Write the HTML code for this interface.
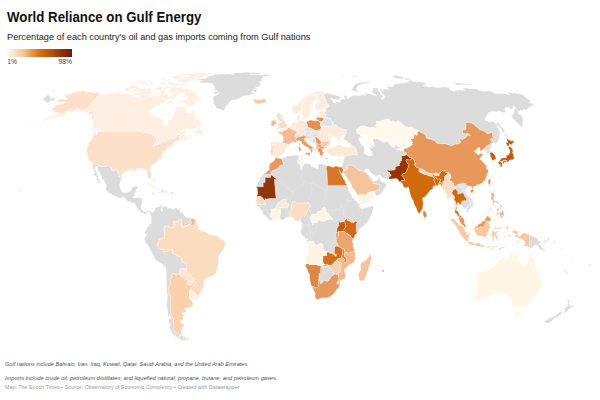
<!DOCTYPE html>
<html><head><meta charset="utf-8"><title>World Reliance on Gulf Energy</title>
<style>
html,body{margin:0;padding:0;background:#fff;}
body{width:600px;height:400px;overflow:hidden;position:relative;font-family:"Liberation Sans",sans-serif;color:#181818;}
#map{position:absolute;left:0;top:0;width:600px;height:400px;}
#map path{stroke:#fff;stroke-width:.3;stroke-linejoin:round;}
.t{position:absolute;white-space:nowrap;line-height:1;transform-origin:0 0;}
#title{left:6.6px;top:9.8px;font-size:14.3px;font-weight:700;color:#111;transform:scaleX(.9285);}
#sub{left:6.6px;top:33.1px;font-size:9px;color:#222;transform:scaleX(1.022);}
#grad{position:absolute;left:6.7px;top:48.8px;width:65.3px;height:8.1px;background:linear-gradient(90deg,#fff8ef 0%,#fde3c8 12%,#f9c697 25%,#e88f42 40%,#d8700f 50%,#b7540c 68%,#8c320a 85%,#6a1b08 100%);}
#l0{left:7.2px;top:59.4px;font-size:6.8px;color:#4a4a4a;}
#l1{left:72px;top:59.4px;font-size:6.8px;color:#4a4a4a;transform:translateX(-100%);}
.fn{font-size:5.55px;color:#4f4f4f;font-style:italic;}
#f1{left:5px;top:361.7px;transform:scaleX(1.0035);}
#f2{left:5px;top:375.5px;transform:scaleX(1.0275);}
#f3{left:5px;top:385.1px;font-size:5.5px;color:#9a9a9a;transform:scaleX(.971);}
</style></head><body>
<svg id="map" viewBox="0 0 600 400">
<path d="M516.1,91.6L515.8,91.3L516.9,90.3L518.4,91.4ZM325.2,111.3L326.6,110.4L325.0,109.5L328.7,106.2L329.0,105.2L326.8,104.0L327.1,102.8L325.6,101.5L326.2,100.0L324.3,98.0L325.2,96.7L323.0,95.6L322.9,94.4L323.9,94.3L326.0,93.6L327.2,93.0L329.6,94.0L333.3,94.4L338.8,96.3L340.1,97.1L340.5,98.3L339.3,99.2L337.2,99.7L330.8,98.4L329.9,98.6L332.4,99.9L333.2,102.5L335.0,103.0L336.2,103.5L336.2,102.6L335.2,101.9L335.9,101.2L339.5,102.3L340.5,101.9L339.3,100.6L342.0,98.8L343.2,98.9L344.7,99.6L345.1,98.4L343.7,97.3L344.0,96.3L342.7,95.2L346.6,95.8L347.7,96.7L346.0,96.9L346.3,97.9L347.6,98.5L349.5,98.1L349.5,97.0L356.1,94.7L357.1,94.8L356.2,95.9L357.9,96.0L358.7,95.5L361.1,95.4L362.8,94.7L364.7,95.7L365.8,94.6L364.0,93.6L364.4,93.1L368.5,93.6L370.6,94.1L376.2,96.1L376.7,95.1L374.9,94.3L374.7,93.9L373.1,93.7L373.1,92.9L371.8,91.6L371.5,91.1L373.1,89.6L373.2,88.1L373.9,87.8L377.5,88.2L378.3,89.1L377.8,90.4L378.9,91.0L379.9,92.1L380.8,94.5L382.8,95.5L382.8,96.7L381.4,99.1L383.1,99.4L383.3,98.8L384.6,98.3L384.5,97.5L385.2,96.6L384.0,95.6L384.0,94.5L382.5,94.4L381.7,93.4L381.8,91.7L379.4,90.4L381.1,89.3L380.1,88.1L380.7,88.1L381.9,89.0L382.3,90.6L383.9,90.9L382.6,89.7L384.4,89.0L387.0,88.9L389.9,89.9L387.9,88.5L386.7,86.8L388.7,86.4L391.8,86.5L394.3,86.3L392.7,85.5L393.4,84.4L394.8,84.4L396.7,83.6L399.8,83.4L399.8,82.9L402.9,82.8L404.2,83.1L406.3,82.3L408.6,82.4L408.3,81.7L408.9,81.0L411.1,80.4L413.5,80.9L413.6,80.9L412.4,81.3L415.4,81.5L416.4,82.3L417.2,81.9L420.8,81.9L424.3,82.7L425.8,83.3L426.3,84.1L425.4,84.6L422.9,85.4L422.4,85.9L424.1,86.1L426.3,86.5L427.2,86.2L428.8,87.3L429.0,86.9L430.7,86.6L435.0,86.9L436.0,87.6L441.6,87.9L440.4,86.6L443.4,86.9L445.4,86.9L448.3,87.8L449.9,88.8L449.8,89.5L452.7,90.8L455.4,91.5L454.9,89.7L457.7,90.5L459.5,90.0L462.5,90.5L462.9,90.1L465.3,90.3L462.8,88.8L463.7,88.1L476.4,89.1L478.6,90.1L483.4,91.4L488.2,91.1L491.1,91.3L493.0,92.0L494.3,93.3L496.4,93.8L497.8,93.4L500.0,93.4L502.9,93.7L505.2,93.5L509.3,95.0L510.3,94.5L507.9,93.4L507.5,92.6L512.3,93.1L514.9,93.0L519.7,93.8L522.5,94.6L530.9,101.5L530.0,102.3L528.1,102.1L530.4,103.1L532.9,104.5L534.1,105.0L535.1,105.8L535.2,106.2L532.2,105.8L529.8,107.2L528.7,107.4L527.0,109.8L527.3,110.6L524.0,109.4L521.7,110.8L520.4,110.1L519.8,110.9L517.7,110.7L518.4,111.9L518.3,113.7L519.1,114.4L521.1,114.8L523.3,117.5L522.0,117.6L522.8,119.2L524.1,120.0L522.3,121.0L523.6,123.1L521.7,123.6L522.8,125.6L522.0,127.3L520.5,126.0L517.6,123.2L513.4,119.0L511.9,116.4L512.2,115.3L511.5,114.4L513.4,114.0L513.8,111.7L514.5,109.8L515.6,108.3L514.2,105.8L512.6,105.9L513.3,107.4L511.7,109.4L508.4,107.2L505.3,107.8L504.6,110.9L506.8,112.0L504.1,112.5L502.0,112.7L501.0,111.3L498.5,111.0L497.5,112.0L492.9,111.6L488.6,112.2L484.5,120.2L487.0,120.5L488.5,121.7L490.3,122.1L490.6,121.1L492.3,121.3L495.9,123.4L497.1,125.0L497.3,126.9L498.7,129.2L500.0,132.3L499.4,135.2L499.7,136.5L497.6,142.3L496.1,143.5L495.1,143.5L493.6,142.5L492.5,143.8L491.3,140.9L490.0,139.2L490.9,138.5L493.0,138.9L493.0,136.9L492.3,134.8L492.5,134.1L492.2,132.2L490.0,132.8L489.1,133.6L486.8,133.6L485.1,131.8L482.5,130.4L479.5,129.7L477.8,127.9L476.6,126.7L475.5,125.8L473.3,123.9L471.6,123.2L469.0,122.6L467.0,122.7L465.4,123.0L464.7,124.0L464.8,124.0L465.8,124.5L466.5,125.5L466.0,126.1L465.8,128.2L466.3,129.0L464.8,130.2L462.6,129.5L462.6,132.9L463.4,133.8L464.2,133.5L465.9,133.8L466.7,133.1L468.2,133.7L470.3,135.1L470.4,135.7L469.1,135.5L467.0,135.8L466.2,136.3L465.7,137.6L463.7,138.4L462.6,139.4L459.9,138.9L459.6,140.2L460.5,141.0L461.0,141.6L460.2,142.2L459.5,143.3L458.0,144.0L455.6,144.1L453.3,144.8L451.9,145.8L451.0,145.2L449.1,145.2L446.3,144.0L444.6,143.7L442.6,144.0L439.2,143.5L437.4,143.6L436.1,142.4L434.7,140.6L433.6,140.4L431.3,139.1L427.1,138.5L426.2,137.7L425.9,135.4L424.3,133.8L421.8,133.0L420.1,132.0L419.1,130.6L418.6,130.8L417.3,129.6L415.4,129.9L414.5,129.0L413.3,128.7L412.1,127.5L411.1,127.2L409.1,127.7L406.6,126.6L406.2,127.6L401.0,122.7L398.6,121.3L398.8,120.7L398.8,120.6L395.8,122.4L394.4,122.5L394.1,121.5L392.0,120.9L390.6,121.3L389.4,119.4L386.6,118.9L385.6,119.7L382.1,120.4L381.6,120.9L376.3,121.6L375.8,122.3L377.2,123.5L376.0,124.0L376.4,124.6L375.2,125.5L378.1,126.9L378.0,127.7L375.8,127.6L375.5,128.2L373.3,127.2L371.0,127.3L369.6,128.1L363.9,125.9L361.6,126.0L358.9,128.1L359.1,129.5L357.3,128.4L356.5,130.5L357.0,131.0L356.5,132.5L358.1,133.8L359.2,133.8L360.4,135.0L360.5,136.1L361.4,136.4L360.9,137.5L359.5,137.8L358.3,139.9L360.1,141.8L360.2,143.1L363.4,146.5L365.0,148.7L364.5,148.7L364.5,150.3L364.3,151.0L363.8,151.4L364.0,152.4L364.8,153.9L366.4,154.4L367.6,155.4L370.0,155.7L372.4,155.2L372.5,154.7L372.0,153.3L371.8,151.2L370.4,150.5L370.6,149.1L369.5,149.0L369.6,147.3L371.2,147.8L372.4,147.2L371.0,146.0L370.2,144.6L370.8,144.5L372.0,145.0L373.5,146.6L374.3,146.5L372.6,139.1L376.3,138.0L380.9,140.3L382.8,142.1L384.6,141.8L387.3,141.7L389.5,143.1L389.9,145.1L390.7,145.1L391.4,146.8L393.4,146.8L394.1,147.8L394.7,147.8L395.1,146.3L397.9,144.0L398.3,144.4L397.1,146.1L398.5,146.8L399.5,146.3L401.6,147.3L400.0,148.7L398.7,148.6L398.3,149.2L396.4,148.8L396.6,150.0L398.3,149.9L400.4,150.6L403.4,150.3L404.2,152.1L404.7,151.9L405.8,152.4L405.9,153.1L406.5,154.3L406.8,154.8L406.0,155.0L405.3,155.4L403.5,155.6L401.8,156.0L401.1,156.9L401.6,157.8L402.0,158.8L401.4,159.7L401.6,160.4L401.3,161.1L399.8,161.1L400.6,162.4L399.7,162.9L399.3,164.2L399.6,165.4L399.1,165.9L398.4,165.7L397.2,166.0L397.1,166.6L395.9,166.6L395.1,167.7L395.4,169.4L393.4,170.3L392.2,170.1L391.9,170.5L390.9,170.3L389.3,170.6L386.3,169.5L387.3,170.7L388.2,171.9L389.9,172.8L390.2,174.5L391.0,174.9L391.3,175.7L389.0,176.8L388.7,179.2L385.5,178.6L383.6,178.1L381.7,177.8L380.6,175.3L379.8,175.0L378.5,175.4L377.0,176.3L374.8,175.7L373.0,174.1L371.3,173.5L370.0,171.6L368.4,168.9L367.5,169.2L366.4,168.6L365.9,169.4L364.9,169.3L365.3,170.2L365.2,170.6L365.9,172.1L364.8,172.2L364.3,171.2L362.8,171.0L359.7,170.8L354.5,166.8L351.9,165.4L349.9,164.8L349.6,165.1L346.3,166.2L348.2,168.2L347.7,168.5L347.5,169.2L346.2,169.5L345.9,170.2L345.3,170.8L343.4,170.5L341.9,166.7L342.3,166.1L342.2,166.0L342.5,165.0L342.7,163.5L343.0,163.0L343.4,161.3L344.1,159.9L343.8,158.3L344.0,157.6L344.9,156.6L344.8,155.5L345.4,155.9L347.1,155.3L348.0,155.7L349.3,155.7L351.1,155.0L352.0,155.0L353.8,154.7L354.4,154.4L356.3,154.6L357.0,155.1L357.7,154.8L356.6,153.1L356.9,152.5L356.0,150.2L357.0,149.6L356.3,149.0L355.0,148.5L355.0,147.6L354.6,146.9L352.9,145.9L351.3,146.0L351.4,145.2L350.7,143.8L349.7,143.1L348.8,142.8L348.2,142.2L345.9,140.5L344.0,139.8L342.5,138.6L343.5,138.3L344.6,136.7L343.6,135.9L345.7,135.1L345.6,134.7L344.3,135.0L344.2,134.1L344.9,133.6L346.4,133.4L346.5,132.8L346.0,131.7L346.4,130.7L346.3,130.1L343.9,129.4L343.0,129.4L341.9,128.5L340.8,128.8L338.8,128.2L338.8,127.8L338.1,126.9L336.3,126.8L337.0,125.9L335.8,124.8L334.3,124.9L333.8,124.8L333.5,125.3L332.9,125.2L332.4,124.0L331.8,123.2L333.4,123.3L333.9,122.8L333.4,122.3L332.5,122.0L332.4,121.6L331.7,121.3L330.6,120.1L330.8,119.6L330.5,118.7L329.0,118.2L328.3,118.4L328.0,118.0L326.4,117.5L325.8,116.4L325.5,115.5L324.8,115.1L325.3,114.5L324.6,112.8L325.4,111.7ZM590.1,266.1L589.0,266.3L588.1,266.1L588.2,265.2L589.0,264.5L589.7,264.7L590.2,264.4L590.6,265.0ZM567.5,298.0L567.9,297.8L568.5,300.1L569.5,300.6L569.0,302.4L569.0,304.5L569.8,303.2L570.2,303.7L569.6,305.2L570.5,305.9L571.5,306.0L572.9,305.3L573.6,305.5L572.1,307.3L570.9,308.5L569.7,308.4L568.9,309.0L568.6,309.9L565.2,312.7L563.4,313.5L563.5,313.0L563.0,312.7L565.0,311.0L565.1,309.9L563.9,309.1L564.3,308.4L565.9,307.7L567.1,306.2L567.8,304.9L567.9,303.5L568.1,303.2L567.8,302.3L567.4,300.6ZM554.1,318.6L552.8,319.9L550.5,321.9L547.5,323.3L546.1,323.3L545.5,322.6L543.9,322.5L544.2,321.8L546.0,320.3L549.3,318.3L550.5,318.0L552.2,317.2L554.2,316.2L555.8,315.1L557.5,313.7L558.4,313.1L559.3,312.0L561.0,311.1L560.7,312.8L562.3,312.0L562.3,312.8L561.7,313.7L558.6,316.1L557.2,316.9L557.2,317.8L555.9,317.8ZM571.0,260.5L571.3,259.0L572.0,259.6L572.0,260.8L571.1,261.1ZM564.0,270.0L565.0,270.0L565.8,270.7L567.7,273.2L568.4,274.1L567.6,274.6L566.8,274.1L565.8,273.2L565.1,272.1ZM561.1,248.1L562.2,248.5L563.8,249.8L561.2,249.2L560.9,248.9ZM552.7,239.2L554.5,242.0L555.2,242.7L555.0,243.3L554.5,243.5L553.8,242.7L553.1,241.4ZM541.0,240.5L541.0,240.3L543.8,240.8L544.7,240.7L545.2,239.1L545.4,240.7L546.4,240.6L546.9,239.9L547.9,239.1L547.8,238.0L548.8,237.9L549.2,238.2L549.1,239.4L548.4,240.6L547.5,240.8L547.2,241.3L545.3,242.3L544.4,242.3L543.0,241.7ZM528.9,247.9L529.7,234.8L532.6,236.2L535.8,237.3L536.9,238.4L537.8,239.4L538.0,240.6L540.8,241.8L541.2,242.9L539.6,243.1L539.8,244.4L541.2,245.7L542.1,247.9L543.2,247.8L543.0,248.7L544.3,249.0L543.7,249.4L546.3,250.7L544.0,251.0L543.7,250.5L540.5,249.9L539.3,248.6L538.5,247.5L537.7,245.8L535.5,244.9L534.0,245.5L532.9,246.2L533.0,247.6L531.6,248.3L530.6,248.0ZM465.9,84.2L465.4,83.7L468.8,84.0L472.4,84.5L471.7,85.1L469.6,84.9ZM455.0,84.2L454.4,83.1L455.7,82.8L459.0,82.9L464.5,83.7L464.9,84.9L460.3,84.8L458.6,85.2ZM497.8,125.6L496.1,122.9L497.1,121.9L499.3,124.0L500.6,125.9L502.5,127.9L506.3,131.3L503.6,130.6L504.5,133.5L507.3,135.5L508.1,136.9L506.2,135.7L506.1,137.2L504.8,135.5L503.8,133.6L502.3,131.5L501.7,130.0L500.0,127.5ZM487.4,153.4L486.3,152.9L486.4,152.0L486.7,151.7L486.4,151.4L486.3,150.3L486.1,150.0L485.1,149.8L484.1,149.2L484.8,148.0L486.1,146.9L486.5,145.5L487.6,146.1L489.0,146.2L488.3,145.1L490.3,144.3L490.4,143.2L491.8,144.2L491.3,145.2L491.2,145.9L491.9,147.3L491.3,147.8L490.8,148.7L489.9,149.0L489.4,149.6L489.8,150.4L489.7,150.7L490.5,151.0L492.3,152.2L491.1,152.4L490.0,152.5L489.7,153.4L489.0,153.4L488.9,153.5L488.1,153.2L487.9,154.3ZM501.2,247.4L502.9,246.5L505.7,246.4L505.8,246.5L502.8,247.9L501.3,248.4L501.3,247.8ZM456.8,186.6L457.1,187.0L458.1,187.1L457.4,184.8L458.2,184.5L459.5,186.0L460.6,187.9L462.7,187.9L463.6,189.6L462.6,190.1L462.3,190.9L464.5,192.1L467.6,196.3L469.1,197.7L469.7,199.1L469.7,201.1L470.2,202.4L470.3,204.8L467.6,206.4L468.4,207.6L466.6,207.7L465.2,208.5L463.8,208.3L463.0,207.2L461.9,205.2L461.3,202.7L462.2,201.1L464.3,200.7L466.0,201.0L466.4,200.1L466.3,198.3L464.7,196.6L464.3,194.6L462.7,192.9L461.4,192.8L461.1,193.5L460.2,193.5L459.6,193.2L458.0,194.4L457.7,192.6L457.8,190.5L456.6,190.4L456.3,189.2L455.5,188.6L455.7,187.8ZM404.9,80.1L405.2,78.1L406.0,78.0L407.0,78.1L410.8,78.9L411.1,79.5ZM404.1,78.7L401.7,78.8L398.0,78.4L395.5,77.9L393.6,76.8L391.7,76.6L393.7,75.6L395.9,75.3L398.9,76.0L403.1,77.4ZM433.7,174.9L434.7,173.2L435.4,172.7L436.7,173.2L437.6,173.2L438.4,173.8L439.2,174.4L439.4,175.6L438.0,175.6L436.6,175.5L435.6,175.8ZM422.2,173.4L420.4,172.4L418.7,171.6L419.0,169.8L420.4,168.4L421.8,169.0L423.8,170.4L424.8,170.6L425.5,171.6L426.9,172.0L428.4,172.9L430.4,173.4L432.4,173.5L432.4,174.4L432.9,175.7L432.9,176.4L431.5,176.5L428.1,175.8L426.9,174.8L424.6,174.5ZM351.7,90.3L351.2,89.4L352.3,89.1L351.9,88.2L353.9,86.8L352.6,86.6L355.0,85.2L354.3,84.5L356.7,83.6L360.3,82.6L364.2,82.3L365.9,81.8L368.2,81.6L369.4,82.2L368.9,82.7L361.6,84.2L358.4,85.7L356.0,88.9L356.8,90.2L360.2,91.7L360.2,91.8L354.8,91.5L354.2,90.8ZM355.0,77.0L352.5,76.8L352.6,76.1L355.9,75.8L357.6,76.5ZM372.4,181.4L373.9,181.0L376.3,181.1L379.5,177.0L380.2,179.5L381.1,180.9L382.1,181.6L383.4,181.8L384.4,182.2L385.8,184.0L386.5,184.3L386.5,184.8L385.8,186.5L385.2,187.2L384.7,188.5L383.9,188.4L383.6,188.9L383.4,189.9L383.8,191.6L382.8,191.5L381.8,192.3L381.7,193.3L381.4,193.7L380.3,193.7L379.7,194.2L379.8,195.0L379.0,195.6L378.0,195.4L376.9,196.0L376.2,196.2L373.9,191.5L378.9,189.4L379.6,185.4L378.7,183.9L378.4,184.3L373.2,183.3ZM370.8,179.8L370.5,178.4L370.9,177.3L371.3,177.1L371.9,177.7L372.1,178.9L371.8,180.0L371.4,180.2ZM340.3,76.0L341.3,76.0L341.9,76.5L341.7,76.1L343.2,75.8L344.8,76.0L344.9,76.3L342.1,76.6L342.3,76.8L341.1,77.0L339.6,76.7ZM256.4,186.7L256.5,185.6L257.1,185.1L257.7,184.0L257.6,183.3L258.3,181.9L259.2,180.6L259.8,180.3L260.3,179.1L260.4,178.0L261.0,176.8L262.2,176.1L263.3,174.0L270.7,174.0L270.7,174.1L270.8,174.0L270.8,171.6L273.5,170.1L275.2,169.8L276.6,169.3L277.2,168.2L279.2,167.4L279.3,165.9L280.2,165.8L280.9,165.0L283.1,164.7L283.4,163.9L283.0,163.4L282.4,161.3L282.4,160.1L281.7,158.8L283.3,157.7L285.0,157.3L286.1,156.5L287.6,155.9L290.4,155.5L293.1,155.4L293.9,155.7L295.4,154.9L297.1,154.9L297.8,155.3L298.9,155.2L298.6,156.2L298.9,158.2L298.5,159.8L297.5,160.9L297.7,162.5L299.1,163.7L299.1,164.2L300.2,165.0L301.0,168.6L301.8,168.1L301.9,167.3L301.7,166.5L302.8,165.7L303.3,165.1L304.1,164.5L304.2,162.9L306.1,163.6L306.8,163.4L308.2,163.8L310.4,164.6L311.2,166.4L312.7,166.8L315.1,167.7L316.9,168.7L317.7,168.2L318.4,167.2L318.0,165.7L318.4,164.7L319.6,163.8L320.7,163.5L322.9,163.9L323.6,164.8L324.2,164.8L324.7,165.1L326.4,165.4L326.8,166.0L326.2,167.0L326.6,167.9L326.2,169.1L326.8,170.8L327.6,185.4L347.7,185.4L348.4,187.4L348.1,187.7L348.4,189.8L349.2,192.2L350.8,193.4L352.0,195.8L352.5,197.6L353.5,198.6L356.0,200.5L358.5,203.5L359.4,204.1L359.8,204.7L359.8,205.6L358.9,206.0L360.2,207.0L360.6,207.8L361.4,208.6L362.2,208.6L363.8,208.1L365.7,207.9L367.2,207.3L368.0,207.1L368.6,206.8L370.2,206.7L370.9,206.4L371.8,206.2L372.6,205.5L373.3,205.5L373.3,206.0L373.2,207.2L373.3,208.2L373.0,209.0L372.6,211.1L371.8,213.4L370.8,216.0L369.4,218.9L368.0,221.1L366.0,223.9L364.2,225.5L361.7,227.5L360.1,229.0L358.1,231.4L357.5,233.1L356.4,231.3L356.3,224.0L357.8,221.7L356.6,221.7L355.9,221.0L354.3,221.9L353.8,222.7L352.7,222.5L352.3,222.3L351.3,222.3L349.1,220.6L347.9,220.6L347.3,220.0L347.3,218.9L346.4,218.5L344.1,221.0L343.1,222.0L341.9,222.0L340.5,222.4L339.4,222.0L338.7,222.5L338.6,224.9L339.2,225.2L338.7,225.9L338.0,226.4L337.4,227.5L337.0,228.4L336.9,230.0L336.5,230.8L336.5,232.3L336.0,232.8L335.9,234.0L335.7,234.2L335.5,235.3L336.0,236.2L336.0,238.6L336.3,240.5L336.1,241.5L336.5,242.7L337.5,243.8L338.2,246.0L335.4,246.4L334.9,246.7L334.4,248.0L334.7,248.9L334.1,253.3L335.7,254.4L336.2,254.3L336.3,256.2L335.0,256.2L333.8,254.2L332.4,253.9L332.1,252.9L331.0,253.5L329.6,253.2L329.1,252.3L328.0,252.1L327.2,252.2L327.1,251.5L325.7,251.4L324.6,251.7L323.5,251.6L323.6,249.4L323.1,248.7L322.9,247.5L323.2,246.3L322.9,245.5L322.8,244.2L320.8,244.2L320.9,243.5L320.0,243.5L319.9,243.8L318.8,243.9L318.1,245.6L317.2,245.3L316.6,245.6L315.5,245.7L314.4,244.1L314.0,242.9L313.5,241.4L308.4,241.3L307.8,241.6L307.3,241.5L306.7,241.8L306.8,241.0L306.9,240.1L307.1,239.6L307.8,239.2L307.1,238.5L306.6,238.8L305.9,239.7L304.5,237.6L302.7,235.6L301.6,233.9L300.5,231.8L300.6,231.2L300.9,230.5L301.7,227.6L302.3,227.5L302.0,225.0L302.2,223.4L301.5,222.1L300.8,221.8L300.4,220.9L300.0,220.6L300.0,220.1L300.5,218.6L301.2,216.7L301.7,216.7L302.8,215.5L303.4,215.5L304.4,216.3L305.6,215.6L305.8,214.8L306.1,214.0L306.4,213.0L307.3,212.1L307.7,210.7L308.0,210.3L308.3,209.2L308.7,207.9L310.1,206.4L310.2,205.7L310.4,205.3L309.7,204.5L309.4,204.5L308.2,202.3L307.7,202.3L306.4,203.4L305.1,202.8L304.1,202.7L303.6,203.0L302.6,202.9L301.6,203.8L300.8,203.8L298.7,202.8L297.9,203.3L297.0,203.2L296.4,202.5L294.6,201.7L292.7,202.0L292.3,202.4L292.0,203.6L291.6,204.4L291.4,206.9L291.8,208.1L291.4,208.9L291.6,209.4L290.8,210.6L290.2,211.2L289.9,212.5L290.0,213.8L289.9,217.0L288.5,217.3L287.1,217.7L284.4,218.9L283.4,219.6L281.9,220.2L280.3,219.6L280.4,218.8L279.7,217.1L280.1,214.8L280.9,213.1L280.2,208.7L280.2,207.6L283.2,207.5L283.9,207.7L284.5,207.4L285.3,207.5L286.8,207.6L287.4,207.3L287.8,206.5L288.6,206.3L289.0,205.7L289.0,204.2L287.0,203.8L287.0,202.8L286.0,201.5L285.8,200.6L285.9,199.6L284.8,199.6L284.4,199.2L283.4,199.5L281.8,200.3L281.5,201.0L280.1,201.9L279.9,202.4L279.2,202.8L278.3,202.5L277.9,203.0L277.6,204.4L276.2,206.1L276.3,206.8L275.8,207.6L275.9,208.8L274.8,209.2L274.5,208.4L274.0,208.7L273.7,208.6L273.4,209.2L272.1,209.2L271.6,208.9L271.0,209.3L270.9,210.0L271.3,210.8L271.7,212.4L271.1,212.6L270.9,212.9L271.0,213.3L270.9,214.1L270.6,214.1L270.5,214.8L270.7,215.7L270.3,216.6L270.9,217.2L271.4,217.3L272.1,218.2L272.2,218.9L272.0,219.2L271.8,221.1L269.7,219.9L268.1,218.4L266.6,217.3L265.5,216.0L265.0,215.8L263.7,215.0L262.9,214.0L262.6,213.2L262.4,211.7L263.3,210.9L261.6,210.6L261.0,209.8L260.1,209.1L259.9,208.2L259.7,207.8L259.2,207.4L258.3,206.6L257.5,206.5L257.2,205.9L257.2,205.6L256.3,204.9L257.5,204.4L258.0,204.5L258.5,204.3L262.5,204.4L263.7,204.9L264.1,204.8L264.3,204.6L265.2,204.8L265.5,204.7L265.5,204.0L265.4,203.2L264.8,202.6L264.5,201.5L264.4,200.3L265.0,199.9L265.3,198.7L265.8,198.7L267.0,199.3L267.9,198.9L268.6,199.0L268.9,198.5L275.8,198.5L276.2,197.1L275.9,196.8L274.4,179.4L277.0,179.4L270.7,174.4L270.6,177.5L265.1,177.4L265.0,182.6L263.5,182.8L263.0,183.8L263.3,186.7ZM317.9,212.3L317.0,213.0L316.3,213.7L314.2,214.5L313.7,214.1L313.4,214.0L313.1,214.5L311.7,214.7L310.8,216.7L310.4,217.1L310.3,218.7L310.4,219.5L310.3,220.1L311.1,221.2L311.3,221.9L311.9,222.9L312.7,223.6L312.8,224.5L313.0,225.1L313.9,223.2L314.9,222.2L316.1,222.5L317.2,222.6L317.4,221.2L318.1,220.2L319.0,219.6L320.4,220.2L321.5,221.0L322.8,221.2L324.1,221.6L324.7,220.2L325.6,220.4L327.5,219.4L328.2,219.8L328.8,219.7L329.1,219.3L329.7,219.1L331.0,219.3L332.1,219.3L332.7,219.1L332.4,218.4L331.1,217.6L330.6,216.4L329.9,215.6L328.7,214.5L328.7,213.9L327.7,213.1L326.4,212.2L325.8,211.6L325.7,211.0L326.0,210.2L325.9,209.3L324.9,208.1L324.7,207.2L323.6,207.5L322.7,208.4L321.5,210.5L319.9,211.5L318.2,211.4L317.7,211.5ZM338.7,281.6L338.9,282.5L338.9,283.4L338.6,284.2L337.6,284.5L336.7,283.4L336.7,282.7L337.2,282.0L337.4,281.4L337.9,281.2ZM328.1,265.1L328.4,265.3L329.0,266.9L329.3,267.2L329.8,268.4L331.6,270.6L332.3,270.8L332.3,271.5L332.8,272.8L334.1,273.1L335.0,274.0L332.6,275.5L331.0,277.0L330.4,278.3L329.9,279.1L328.9,279.2L328.4,280.8L327.3,281.3L325.9,281.2L325.2,280.6L324.4,280.4L323.6,280.9L323.1,281.8L322.3,282.4L321.4,283.3L320.3,283.5L319.9,282.9L320.1,281.6L319.2,279.7L318.8,279.4L319.0,273.6L320.7,273.4L321.0,266.3L322.2,266.2L324.9,265.5L325.5,266.4L326.6,265.6L327.1,265.6ZM314.6,120.0L316.4,119.4L318.1,119.7L318.7,120.0L318.7,120.5L318.7,121.0L316.1,121.0L314.3,120.8ZM204.4,80.9L199.5,80.5L197.2,79.9L197.8,79.3L207.6,77.9L208.4,77.4L205.6,76.9L207.0,76.3L211.8,75.4L213.6,75.2L213.5,74.6L216.5,74.3L220.2,74.1L223.7,74.1L224.7,74.5L228.2,73.8L230.5,74.2L232.1,74.3L234.2,74.8L231.9,74.1L232.4,73.5L236.7,72.8L240.6,72.8L242.3,72.4L246.3,72.3L255.1,72.4L261.5,73.4L261.5,73.5L259.5,73.9L249.0,74.1L249.4,74.3L253.5,74.2L256.8,74.6L259.2,74.2L260.0,74.7L258.5,75.5L261.6,75.0L267.2,74.4L270.6,74.7L271.2,75.3L266.3,76.2L265.6,76.6L261.8,76.8L264.5,76.9L262.9,77.9L261.8,78.8L261.5,80.5L262.8,81.5L260.9,81.6L258.8,82.0L260.9,82.9L261.0,84.2L259.6,84.3L261.0,85.7L258.2,85.8L259.6,86.5L259.0,87.1L257.2,87.3L255.4,87.3L256.8,88.4L256.7,89.2L254.3,88.5L253.6,88.9L255.3,89.3L256.8,90.3L257.0,91.7L254.7,92.0L252.4,90.4L252.6,91.5L250.9,92.4L255.9,92.6L255.9,92.7L252.4,94.1L248.5,95.4L244.5,96.0L243.0,96.0L241.5,96.7L239.3,98.5L236.1,99.7L235.1,99.8L231.1,100.6L229.7,101.7L229.4,103.0L228.3,104.1L225.7,105.6L225.9,107.0L223.7,110.2L221.7,110.3L220.0,108.9L217.2,108.8L216.1,107.8L215.7,106.1L214.0,103.9L213.7,102.7L214.0,101.1L212.7,99.5L213.7,98.2L213.0,97.6L215.0,95.6L217.3,95.0L218.0,94.2L218.8,92.9L216.3,93.8L215.0,94.0L213.6,93.5L214.0,92.3L214.8,91.4L216.1,91.4L218.5,91.8L215.8,90.2L214.4,90.4L213.5,90.0L215.6,88.5L215.0,87.9L213.8,85.1L212.5,84.4L212.8,83.8L210.0,82.9L207.5,82.7L201.1,82.9L200.0,82.4L198.4,81.5L201.9,81.0ZM96.2,163.8L96.2,164.2L101.7,166.6L106.3,166.6L106.6,165.7L109.4,165.7L109.8,166.4L111.2,168.0L111.5,169.0L111.6,170.1L112.3,170.7L113.6,171.3L115.0,169.7L116.4,169.7L117.3,170.5L117.8,171.9L118.1,173.1L118.8,174.2L118.9,175.6L119.2,176.6L120.3,177.2L121.4,177.7L122.1,177.6L121.1,179.3L120.5,180.8L119.9,183.5L119.6,184.5L119.7,185.6L120.0,186.6L120.1,188.1L121.0,189.6L121.2,190.8L121.7,191.8L123.4,192.3L124.0,193.2L125.6,192.6L126.9,192.4L129.4,191.7L130.6,190.9L131.2,189.7L131.6,188.0L131.9,187.4L133.2,186.9L135.0,186.4L136.5,186.5L137.6,186.3L137.9,186.7L137.7,187.7L136.6,188.9L136.1,190.1L136.3,190.5L135.3,192.9L135.0,192.4L134.6,192.4L134.5,192.7L134.9,192.7L134.8,193.3L134.4,194.2L134.5,194.5L134.2,195.2L134.3,195.4L134.0,196.4L133.6,196.9L133.3,197.0L132.9,197.7L133.4,198.1L133.6,197.8L134.2,198.1L134.6,197.8L135.1,197.7L135.3,197.9L135.5,197.8L136.3,198.0L137.1,197.9L137.7,197.7L137.9,197.5L138.8,197.7L139.3,197.7L139.7,197.5L140.7,197.8L141.6,198.6L142.2,198.9L142.5,199.4L142.3,200.1L142.4,200.9L141.9,201.6L141.7,202.4L141.5,203.2L141.6,204.7L141.3,204.9L141.0,205.7L141.1,206.3L140.7,206.8L140.8,207.3L141.0,207.6L141.4,208.7L143.3,211.1L143.2,211.6L143.9,211.6L144.1,211.5L144.5,212.0L145.4,211.8L146.2,211.3L147.2,210.9L147.9,210.3L148.8,210.4L148.7,210.6L149.7,210.7L150.4,211.0L151.6,212.2L152.5,212.3L153.8,210.9L154.6,210.7L154.6,210.0L155.1,208.3L156.1,207.4L157.2,207.3L157.4,206.9L158.7,207.1L160.8,205.6L161.7,204.6L162.3,204.8L162.7,205.3L162.4,206.0L162.3,206.4L161.2,206.7L161.8,207.6L161.7,208.6L160.8,209.8L161.4,211.4L162.2,211.3L162.6,209.8L162.1,209.1L162.1,207.6L164.3,206.8L164.2,205.8L164.8,205.2L165.3,206.6L166.5,206.6L167.6,207.7L167.6,208.4L169.2,208.4L171.0,208.2L171.9,209.1L173.3,209.4L174.3,208.7L174.3,208.2L176.7,208.1L177.6,209.6L178.9,209.8L180.2,210.8L180.4,212.4L181.3,212.3L183.1,213.5L184.1,214.9L184.1,215.9L184.8,215.9L186.3,217.6L188.4,218.0L188.6,217.7L190.0,217.5L191.8,218.0L190.9,219.8L191.0,221.2L191.6,222.3L191.3,223.2L191.1,224.1L190.7,224.9L189.7,224.5L188.9,224.7L188.2,224.5L188.0,225.2L188.4,225.9L187.2,225.7L186.8,225.8L185.8,225.6L185.3,226.2L184.5,226.5L183.9,226.6L183.7,227.0L182.9,226.9L181.9,226.0L181.8,225.1L181.3,224.1L181.6,222.4L182.1,221.6L181.7,220.7L181.2,220.4L181.4,219.5L181.0,219.0L180.1,219.1L180.3,219.7L179.6,220.5L177.7,221.2L176.4,221.5L175.9,222.0L174.6,221.5L173.3,221.2L172.9,221.4L173.7,222.0L173.6,223.3L173.8,224.6L176.0,224.9L174.1,225.7L173.9,226.6L171.9,227.4L171.6,228.0L170.3,228.1L169.3,227.1L168.9,227.1L168.7,226.1L168.2,225.5L167.6,226.2L164.2,226.1L164.2,227.4L165.9,227.8L163.8,228.5L163.8,230.0L164.6,230.7L164.9,231.9L164.8,232.7L164.1,238.2L162.6,238.1L162.4,238.4L160.9,238.8L159.0,240.1L158.9,241.1L158.5,241.8L158.7,242.9L157.7,243.5L157.7,244.3L157.3,244.7L158.1,246.5L159.1,247.7L158.8,248.6L159.9,248.7L160.7,249.8L162.2,249.9L163.5,248.7L163.6,251.7L164.4,252.0L165.4,251.6L166.6,251.8L167.6,251.7L167.9,251.1L169.4,250.3L170.2,249.6L172.4,249.2L172.3,250.7L172.6,251.5L172.5,252.8L174.5,254.6L176.5,255.0L177.2,255.7L178.4,256.1L179.1,256.7L180.2,256.7L181.2,257.3L181.4,258.4L181.8,259.0L181.8,259.8L181.4,259.9L182.2,262.3L185.5,262.4L185.3,263.5L185.6,264.3L186.6,264.9L187.0,266.1L186.9,267.7L186.5,268.6L186.8,269.8L184.5,268.5L183.0,268.4L180.0,269.0L179.4,270.8L179.4,271.9L179.1,273.9L176.8,273.8L176.3,275.4L175.2,273.9L172.9,273.4L171.7,275.3L171.9,275.8L171.6,277.9L169.9,278.9L170.5,282.3L170.2,282.9L170.8,283.7L169.9,284.9L169.1,286.8L168.8,288.7L169.3,290.7L168.6,292.7L170.1,296.2L170.6,296.6L170.9,298.4L170.4,300.4L170.8,302.1L169.9,303.4L170.3,305.3L171.2,307.2L170.5,307.9L170.5,309.7L170.6,311.8L171.5,314.2L171.0,314.6L172.0,316.9L172.9,317.7L172.6,318.5L173.5,318.9L173.8,319.6L173.3,320.0L173.8,321.2L174.0,323.8L173.7,325.5L174.2,326.5L174.1,327.7L173.2,328.6L174.1,330.6L174.9,331.4L175.8,331.3L176.3,332.7L177.3,333.8L181.7,334.1L179.5,335.5L179.9,337.3L179.3,337.3L177.4,336.7L175.2,335.4L172.9,334.3L172.0,333.0L172.0,331.9L170.8,330.6L169.5,327.3L169.5,325.4L170.6,323.9L168.1,323.3L169.1,321.6L168.6,318.3L170.5,319.0L170.2,314.9L169.0,314.4L169.2,316.9L168.1,316.6L167.4,310.0L167.8,308.6L166.8,306.7L166.1,304.4L166.8,304.3L167.1,301.1L167.5,297.9L167.6,294.9L166.6,291.8L166.8,290.2L166.2,287.7L166.7,285.2L166.4,281.3L166.3,272.6L165.8,269.3L165.2,266.5L163.3,265.3L163.1,264.5L159.5,262.5L156.2,260.3L154.8,259.0L153.9,257.3L154.1,256.8L152.5,254.1L150.5,250.4L148.6,246.4L147.9,245.5L147.3,244.0L145.9,242.7L144.6,241.9L145.1,241.0L144.2,239.1L144.7,237.7L146.1,236.4L147.0,234.9L146.6,234.1L145.9,235.0L144.9,234.1L145.2,233.6L144.9,231.7L145.5,231.4L145.8,230.2L146.5,228.9L146.4,228.1L147.3,227.6L148.5,226.8L148.3,226.2L148.9,226.0L148.9,225.0L149.3,224.3L150.2,224.2L151.6,221.9L151.0,221.4L151.3,220.2L151.0,218.4L151.4,217.9L151.2,216.2L150.5,215.1L150.0,214.5L149.7,213.4L150.1,212.9L149.7,212.8L149.4,212.1L148.6,211.5L147.8,211.7L147.4,212.4L146.7,212.9L146.3,212.9L146.1,213.4L146.9,214.5L146.4,214.7L146.1,215.0L145.3,215.1L145.1,213.9L144.9,214.3L144.3,214.1L144.0,213.3L143.3,213.2L142.8,213.0L142.1,213.0L142.1,213.2L140.9,212.6L140.6,212.2L140.8,211.9L140.8,211.4L140.3,211.0L139.1,210.3L139.0,209.7L138.6,209.4L138.9,211.3L137.9,209.9L137.4,209.7L137.2,209.3L137.2,208.6L137.5,208.0L137.1,207.7L137.5,207.3L136.2,205.9L135.9,205.2L134.6,204.0L135.0,203.5L134.8,202.9L134.3,202.7L134.1,203.2L133.1,203.2L132.5,203.0L131.8,202.6L130.8,202.5L130.4,202.0L129.6,201.7L128.5,201.6L127.7,201.2L126.9,200.4L125.2,198.2L124.4,197.6L123.1,197.1L122.1,197.2L120.6,198.0L119.7,198.2L118.6,197.6L117.4,197.2L115.9,196.3L114.6,196.0L112.8,195.1L111.5,194.1L111.2,193.6L110.2,193.5L108.6,192.9L108.0,191.9L106.4,190.8L105.7,189.5L105.5,188.5L106.1,188.3L106.0,187.8L106.5,187.2L106.6,186.6L106.3,185.6L106.3,184.8L105.9,183.8L104.8,181.8L103.4,180.2L102.9,179.0L101.6,178.2L101.5,177.7L102.0,176.4L101.3,175.9L100.5,175.0L100.5,173.5L99.6,173.4L98.4,171.3L98.5,170.7L98.0,169.2L97.9,167.6L98.1,166.9L97.2,166.1L96.6,166.2L95.8,165.6L95.3,166.4L95.3,167.4L95.0,168.9L95.3,169.7L96.2,171.1L96.3,171.6L96.5,171.7L96.6,172.4L96.9,172.4L96.9,173.7L97.2,174.2L97.4,174.9L98.2,176.0L98.3,177.9L98.9,179.7L98.7,180.7L99.5,180.8L100.5,182.8L99.2,184.0L98.9,182.5L98.1,181.3L97.1,180.4L96.3,179.9L96.7,178.4L96.7,177.3L95.2,175.8L94.9,176.0L94.6,175.5L93.7,175.0L92.9,173.6L93.8,173.8L94.6,173.0L95.0,172.1L94.1,170.7L93.3,170.1L92.5,165.9L92.4,164.1ZM178.1,209.6L178.9,208.8L178.9,208.0L180.2,207.6L180.1,209.3ZM173.9,335.4L173.9,335.1L177.7,337.1L179.9,337.7L180.4,336.9L180.4,335.5L181.5,334.8L182.6,335.0L184.1,339.3L187.6,339.4L185.4,340.6L183.7,340.4L182.4,339.9L180.8,339.6L178.5,338.5L176.6,337.5ZM160.9,192.8L161.9,192.1L161.2,191.2L161.4,189.6L163.1,190.0L163.2,191.1L162.9,191.8L162.5,192.2L163.3,193.5ZM159.0,193.4L157.1,191.9L160.9,192.5ZM151.1,192.7L152.5,192.4L154.0,192.6L155.8,193.6L153.9,193.7L153.3,194.0L152.4,193.7ZM153.2,180.2L154.1,178.2L154.5,180.7L154.2,183.1L153.7,180.8ZM39.6,101.5L48.0,94.6L49.7,95.9L51.1,97.6L49.7,98.7L50.1,99.1L51.3,97.8L54.6,98.1L55.4,99.7L53.2,100.5L50.7,100.7L48.8,102.4L47.8,102.8L46.6,102.7L46.2,102.1L45.0,101.6L45.6,100.8L44.5,100.5L42.7,100.7L42.7,100.1L43.8,99.5L41.6,99.9L41.3,100.7ZM53.6,90.3L55.0,90.2L56.1,90.7L52.1,91.4Z" fill="#dcdcdc" fill-rule="evenodd"/>
<path d="M270.8,174.2L270.8,174.3M277.0,179.4L288.3,188.2L288.8,189.1L289.8,189.7L290.6,190.0L290.6,191.3L292.5,191.1L294.9,190.2L299.8,186.2L305.5,182.4M305.5,182.4L308.2,183.3L309.2,184.4L310.4,183.6L312.0,182.5L318.9,186.4L325.8,190.3L325.8,189.4L327.8,189.4L327.6,185.5M305.5,182.4L304.7,181.1L303.4,180.2L302.6,180.6L302.0,179.4L301.9,178.6L300.9,177.1L301.5,176.3L301.4,175.0L301.6,173.9L301.4,173.0L301.7,171.3L301.6,170.4L301.0,168.7M292.5,191.1L292.6,195.8L291.6,197.1L291.5,198.3L290.0,198.7L287.6,198.8L287.0,199.5L286.0,199.6M312.0,182.5L310.9,186.8L311.5,187.3L311.6,187.9L312.3,188.6L311.9,189.5L311.4,193.6L311.4,196.2L309.2,198.1L308.5,200.7L309.2,201.5L309.2,202.8L310.4,202.8L310.2,203.8L309.7,204.4M325.8,190.3L326.2,198.3L324.7,198.1L324.0,199.6L323.5,200.8L323.9,201.3L323.4,201.9L323.6,202.8L323.2,203.6L323.0,204.3L323.6,204.2L324.0,205.0L324.0,206.2L324.7,206.8L324.7,207.1M326.7,212.2L327.0,212.1L327.6,211.7L328.0,209.9L328.5,209.0L329.7,208.7L330.0,209.3L331.0,210.4L331.4,210.6L332.1,210.3L333.3,210.3L333.5,210.7L335.3,210.7L335.3,210.3L336.2,210.0L336.4,209.4L337.0,209.0L338.5,210.1L339.4,209.9L340.2,208.5L341.1,207.4L340.9,206.2L340.5,205.6L341.5,205.5L341.6,205.0L342.4,205.2L342.3,206.6L342.5,208.1L343.4,208.9L343.7,209.6L343.6,210.6L343.9,210.6L343.9,212.2M343.9,212.2L343.7,212.8L342.8,212.8L342.2,214.0L343.3,214.1L344.2,215.1L344.5,215.9L345.3,216.4L346.3,218.4M347.8,200.6L347.6,202.4L347.0,204.3L346.0,205.4L345.3,206.9L345.1,207.7L344.3,208.3L343.9,210.4L343.9,212.2M350.8,193.5L350.0,194.6L348.8,194.9L348.3,195.5L348.2,196.9L347.6,199.8L347.8,200.6L349.8,201.1L350.3,199.6L351.4,200.5L352.4,200.0L352.8,200.4L354.0,200.4L355.5,201.3L356.0,202.0L356.8,202.6L357.5,203.8L358.1,204.4L358.9,204.6L359.3,204.2M358.1,204.4L357.0,206.3L357.2,206.8L357.2,207.4L358.2,207.5L358.6,207.3L359.0,207.7L358.7,208.4L359.3,209.5L360.0,210.5L360.7,211.2L366.4,213.5L367.9,213.5L363.1,219.6L360.9,219.7L359.3,221.1L358.2,221.1L357.9,221.6M332.7,219.2L333.7,220.8L334.5,221.0L335.0,220.7L335.8,220.8L336.7,220.4L337.1,221.2L338.6,222.5M317.2,222.7L317.1,223.8L316.6,224.8L316.3,226.1L316.1,227.9L316.2,229.0L315.9,229.7L315.8,230.4L315.6,231.1L314.5,232.1L313.7,233.1L312.9,235.0L313.0,236.7L312.5,237.3L311.5,238.3L310.5,239.6L309.9,239.2L309.7,238.6L308.8,238.6L308.2,239.4L307.9,239.2M313.0,225.2L312.9,226.1L311.5,225.7L310.1,225.1L307.9,225.0L307.8,225.9L308.3,227.0L309.6,226.8L310.0,227.2L309.2,229.5L310.1,230.7L310.3,232.3L310.0,233.6L309.5,234.6L308.0,234.5L307.1,233.5L306.9,234.4L305.7,234.6L305.1,235.2L305.8,236.5L304.5,237.5M302.1,225.0L304.8,225.1L307.7,224.9L307.9,225.0M309.7,204.4L310.2,203.8M311.8,214.6L311.9,214.2L311.4,212.8L311.1,211.9L310.4,211.6L309.3,210.4L309.7,209.5L310.5,209.7L311.0,209.6L312.0,209.6L311.0,207.7L311.0,206.4L310.9,205.1L310.2,203.8M325.9,210.6L326.4,212.1M286.8,207.7L286.6,208.6L287.7,209.9L287.8,210.9L288.1,211.3L288.1,215.9L288.5,217.2M285.3,207.6L285.2,208.1L285.9,209.2L285.9,210.6L286.0,212.2L286.5,212.9L286.1,214.7L286.2,215.7L286.7,217.0L287.0,217.6M291.3,206.1L290.2,205.0L289.5,205.1L289.1,205.5M271.8,220.9L271.7,220.9M265.5,215.9L266.6,214.6M270.5,214.2L269.3,214.9L269.0,214.5L269.1,213.7L268.4,212.5L267.9,212.7L267.6,212.7L267.1,212.8L267.1,212.1L266.9,211.6L266.9,211.0L266.5,210.2L266.1,209.4L264.7,209.4L264.3,209.8L263.8,209.8L263.5,210.3L263.3,210.8M267.6,212.7L266.8,213.7L266.0,214.8L265.9,215.3L265.5,215.9M271.3,209.0L270.9,208.5L271.0,207.9L270.7,207.7L270.4,207.9L270.5,207.2L270.8,206.7L270.1,205.9L269.9,205.3L269.5,204.9L269.2,204.9L268.8,205.1L268.2,205.4L267.7,205.8L267.0,205.7L266.5,205.2L266.2,205.1L265.8,205.4L265.5,205.4L265.5,204.8M261.7,204.5L261.6,205.0L261.4,205.2L261.6,205.9L261.3,206.2L260.9,206.2L260.5,206.5L259.9,206.5L259.2,207.4M325.8,190.3L325.8,189.4" fill="none" stroke="#fff" stroke-opacity=".55" stroke-width=".5" stroke-linejoin="round"/>
<path d="M264.4,200.2L263.2,198.9L262.2,197.4L261.1,196.9L260.3,196.3L259.3,196.3L258.5,196.7L257.7,196.5L257.1,197.2L256.9,196.1L257.4,195.1L257.7,193.2L257.5,191.2L257.4,190.2L257.6,189.2L257.1,188.3L256.3,187.4L256.7,186.7L263.3,186.7L263.1,183.8L263.5,182.8L265.1,182.6L265.2,177.4L270.7,177.5L270.7,174.5L277.0,179.4L274.4,179.4L275.1,188.1L275.8,196.8L276.1,197.1L275.8,198.5L268.9,198.5L268.6,199.0L267.9,198.8L267.0,199.2L265.8,198.7L265.2,198.7L264.9,199.9Z" fill="#8f360a" fill-rule="evenodd"/>
<path d="M406.9,154.8L408.3,155.8L409.2,157.3L412.1,158.1L410.9,159.8L409.1,160.1L406.5,159.6L405.9,160.5L406.9,162.3L407.7,163.6L409.3,164.6L408.1,165.8L408.4,167.2L407.2,169.3L406.5,171.3L405.1,173.4L403.2,173.3L401.6,175.4L402.9,176.3L403.3,177.9L404.4,178.9L405.0,180.6L401.3,180.6L400.4,182.0L399.0,181.5L398.4,180.0L396.8,178.5L393.8,178.8L391.1,178.9L388.7,179.2L389.0,176.8L391.3,175.8L391.0,174.8L390.2,174.5L389.9,172.7L388.2,171.9L387.3,170.6L386.3,169.6L389.3,170.6L390.9,170.3L391.9,170.6L392.2,170.1L393.4,170.3L395.4,169.4L395.2,167.7L395.9,166.6L397.1,166.6L397.2,166.0L398.4,165.8L399.1,166.0L399.6,165.4L399.3,164.2L399.8,162.9L400.7,162.4L399.8,161.1L401.4,161.2L401.7,160.4L401.4,159.7L402.1,158.8L401.7,157.8L401.1,157.0L401.8,156.1L403.5,155.7L405.3,155.4L406.0,155.1Z" fill="#96330a" fill-rule="evenodd"/>
<path d="M340.5,231.7L338.6,231.6L338.0,231.9L337.0,232.5L336.5,232.3L336.6,230.8L337.0,230.0L337.1,228.4L337.4,227.5L338.1,226.4L338.7,225.9L339.3,225.2L338.6,224.9L338.7,222.6L339.4,222.0L340.5,222.5L341.9,222.0L343.1,222.0L344.2,221.1L345.0,222.5L345.2,223.5L346.0,225.8L345.4,227.2L344.5,228.6L344.0,229.4L344.0,231.5Z" fill="#c15a0f" fill-rule="evenodd"/>
<path d="M499.7,175.9L500.2,175.7L499.6,177.1L499.3,176.9ZM505.7,162.8L504.8,162.1L504.1,162.6L504.1,163.8L502.8,163.2L502.5,162.2L502.9,161.0L504.0,161.3L504.3,160.4L505.7,160.8L506.2,161.5ZM514.3,157.4L514.0,158.8L512.4,159.8L509.5,159.9L508.1,162.2L506.7,161.4L506.0,159.9L503.4,160.4L501.8,161.3L499.9,161.4L502.1,162.9L502.2,166.3L501.5,167.1L500.4,166.4L500.2,164.5L498.9,164.0L497.7,162.6L499.1,162.0L499.5,160.7L500.7,159.6L501.4,158.3L504.3,157.7L506.3,158.1L506.4,154.5L507.9,155.4L509.4,153.4L510.0,152.6L509.8,150.2L508.4,148.0L508.5,146.7L510.0,146.3L512.2,149.1L513.0,150.7L512.5,152.7L513.5,154.8L513.6,156.4ZM512.9,140.3L514.6,142.6L512.5,143.1L512.2,145.1L509.0,143.7L509.3,145.9L507.5,145.9L506.3,144.0L506.2,142.4L507.9,142.3L506.8,139.6L506.4,138.0L509.4,140.1L511.0,140.8L512.3,141.2Z" fill="#c65a0c" fill-rule="evenodd"/>
<path d="M493.5,162.2L493.2,162.8L492.5,162.6ZM494.2,154.2L495.1,155.5L496.1,157.9L495.9,159.0L494.6,159.4L493.6,160.2L492.2,160.4L491.5,159.3L491.3,157.8L489.7,155.6L490.8,155.3L489.0,153.6L489.0,153.4L489.8,153.5L490.0,152.6L491.1,152.5L491.8,152.3L491.8,151.9Z" fill="#c65d12" fill-rule="evenodd"/>
<path d="M461.9,205.1L460.3,204.2L458.8,204.2L458.9,202.7L457.4,202.7L457.5,204.9L456.8,207.8L456.4,209.6L456.6,211.1L457.7,211.1L458.6,212.9L459.0,214.7L460.0,215.8L461.1,216.1L462.0,217.1L461.5,217.9L460.4,218.2L460.2,217.2L458.7,216.3L458.5,216.6L457.7,215.9L457.4,214.9L456.4,213.7L455.5,212.8L455.3,214.0L454.9,212.8L455.0,211.6L455.3,209.7L456.0,207.6L456.8,205.7L455.9,203.9L455.9,203.0L455.6,201.8L454.2,200.2L453.7,199.2L454.2,198.9L454.6,197.1L453.8,195.8L452.5,194.3L451.4,192.5L452.1,192.2L452.5,190.0L453.7,189.9L454.6,189.0L455.5,188.6L456.3,189.2L456.6,190.4L457.8,190.5L457.7,192.6L458.0,194.4L459.6,193.2L460.2,193.6L461.2,193.5L461.4,192.8L462.7,193.0L464.3,194.6L464.6,196.6L466.3,198.3L466.4,200.0L466.0,201.0L464.3,200.6L462.1,201.0L461.2,202.7Z" fill="#cf6a14" fill-rule="evenodd"/>
<path d="M356.3,231.3L357.4,233.0L356.1,233.8L355.7,234.6L355.0,234.8L354.8,236.2L354.2,237.0L353.9,238.3L353.2,239.0L350.7,237.0L350.6,235.8L344.3,231.7L344.0,231.5L344.0,229.4L344.5,228.6L345.4,227.2L346.0,225.8L345.2,223.5L345.0,222.5L344.2,221.1L345.2,219.9L346.4,218.5L347.3,218.9L347.3,220.0L347.9,220.7L349.1,220.7L351.3,222.4L351.9,222.4L352.3,222.3L352.6,222.6L353.8,222.7L354.3,221.9L355.9,221.1L356.6,221.7L357.8,221.7L356.3,224.0Z" fill="#cf6a1a" fill-rule="evenodd"/>
<path d="M412.1,158.1L414.4,160.5L414.6,162.1L415.5,163.2L415.6,164.2L414.4,163.9L415.3,166.2L417.2,167.4L419.8,168.9L418.9,169.8L418.7,171.7L420.4,172.4L422.2,173.4L424.6,174.6L426.9,174.8L428.1,175.8L429.4,176.0L431.5,176.5L432.9,176.5L432.9,175.7L432.5,174.4L432.4,173.5L433.4,173.1L433.8,174.7L433.9,175.1L435.6,175.9L436.6,175.5L438.0,175.7L439.4,175.6L439.3,174.4L438.5,173.7L439.7,173.5L440.9,172.0L442.6,170.7L444.1,171.2L445.1,170.3L446.1,171.6L445.8,172.4L447.6,172.7L447.9,173.5L447.4,173.9L447.8,175.1L446.6,174.8L444.7,176.2L445.0,177.3L444.4,179.0L444.5,180.0L444.1,181.6L442.7,181.2L443.0,183.3L442.7,184.0L443.0,184.8L442.3,185.3L440.8,182.1L440.4,182.1L440.3,183.4L439.2,182.4L439.5,181.2L440.3,181.1L440.7,179.4L439.7,179.0L438.1,179.1L436.5,178.8L436.1,177.4L435.2,177.3L433.7,176.4L433.4,177.8L434.8,178.8L433.9,179.6L433.7,180.3L434.8,180.9L434.7,182.1L435.6,183.6L436.1,185.3L436.0,186.0L434.8,186.0L432.8,186.4L433.1,187.9L432.4,189.1L430.1,190.5L428.5,192.8L427.4,194.1L425.8,195.4L425.9,196.3L425.1,196.8L423.7,197.6L422.9,197.7L422.5,199.2L423.1,201.8L423.4,203.5L422.8,205.4L423.0,208.8L422.1,208.9L421.5,210.4L422.0,211.1L420.5,211.7L420.0,213.0L419.3,213.6L417.6,211.7L416.6,208.9L415.8,206.9L415.1,206.0L414.1,204.0L413.5,201.5L413.0,200.2L411.2,197.5L410.1,193.6L409.3,191.0L409.1,188.6L408.5,186.7L406.2,187.9L404.9,187.6L402.4,185.2L403.1,184.5L402.6,183.7L400.4,182.0L401.3,180.6L405.0,180.6L404.4,178.9L403.3,177.9L402.9,176.3L401.6,175.4L403.2,173.3L405.1,173.4L406.5,171.3L407.2,169.3L408.4,167.2L408.1,165.8L409.3,164.6L407.7,163.6L406.9,162.3L405.9,160.5L406.5,159.6L409.1,160.1L410.9,159.8Z" fill="#d16a0d" fill-rule="evenodd"/>
<path d="M442.3,185.3L442.5,186.8L441.8,186.4L442.2,188.1L441.6,187.0L441.3,186.0L440.8,185.0L439.9,183.8L438.3,183.7L438.6,184.6L438.3,185.7L437.5,185.3L437.3,185.7L436.8,185.4L436.1,185.3L435.6,183.6L434.7,182.1L434.8,180.9L433.7,180.3L433.9,179.6L434.8,178.8L433.4,177.8L433.7,176.4L435.2,177.3L436.1,177.4L436.5,178.8L438.1,179.1L439.7,179.0L440.7,179.4L440.3,181.1L439.5,181.2L439.2,182.4L440.3,183.4L440.4,182.1L440.8,182.1Z" fill="#d16a0d" fill-rule="evenodd"/>
<path d="M341.8,248.1L342.6,249.0L343.0,250.7L342.7,251.3L342.3,252.9L342.6,254.6L342.0,255.3L341.4,257.1L342.3,257.6L337.0,259.3L337.1,260.7L335.9,261.0L334.8,261.8L334.6,262.5L334.0,262.7L332.4,264.3L331.4,265.6L330.9,265.7L330.3,265.5L328.4,265.2L328.1,265.1L328.1,264.9L327.4,264.4L326.3,264.3L324.9,264.8L323.8,263.5L322.7,261.9L323.0,255.5L326.6,255.5L326.4,254.8L326.7,254.1L326.4,253.1L326.7,252.2L326.5,251.5L327.1,251.6L327.2,252.2L328.0,252.2L329.1,252.3L329.6,253.2L331.0,253.5L332.0,252.9L332.4,253.9L333.7,254.2L334.3,255.1L335.0,256.2L336.3,256.2L336.3,254.0L335.8,254.4L334.6,253.6L334.1,253.3L334.4,251.3L334.7,248.9L334.4,248.0L334.9,246.7L335.4,246.5L337.7,246.1L338.4,246.3L339.1,246.8L339.8,247.2L340.9,247.5Z" fill="#d3701f" fill-rule="evenodd"/>
<path d="M343.3,170.2L342.9,171.0L342.7,172.6L342.3,173.6L341.9,174.0L341.3,173.3L340.5,172.4L339.1,169.5L338.9,169.7L339.8,171.8L341.0,173.9L342.5,177.0L343.2,178.1L343.8,179.3L345.5,181.5L345.2,181.8L345.3,183.2L347.4,185.0L347.7,185.4L341.0,185.4L334.4,185.4L327.6,185.4L327.3,178.0L326.8,170.8L326.2,169.1L326.6,167.9L326.3,167.0L326.8,166.1L329.0,166.0L330.6,166.6L332.3,167.1L333.1,167.5L334.3,166.8L335.0,166.3L336.4,166.1L337.6,166.3L338.1,167.3L338.5,166.7L339.8,167.2L341.1,167.3L341.9,166.8Z" fill="#d8762a" fill-rule="evenodd"/>
<path d="M312.5,287.1L311.3,285.6L310.7,284.1L310.4,282.1L310.0,280.7L309.6,277.6L309.6,275.2L309.4,274.0L308.8,273.2L307.9,271.5L307.1,269.1L306.7,267.9L305.4,265.9L305.3,264.3L306.1,264.0L307.2,263.6L308.3,263.7L309.3,264.6L309.5,264.4L316.5,264.4L317.6,265.3L321.8,265.6L324.9,264.8L326.3,264.3L327.4,264.4L328.1,264.9L328.1,265.1L327.1,265.5L326.6,265.5L325.5,266.3L324.9,265.5L322.2,266.2L320.9,266.3L320.6,273.4L319.0,273.5L318.8,279.4L318.4,286.9L316.9,287.9L316.0,288.1L315.0,287.7L314.2,287.5L314.0,286.7L313.3,286.1Z" fill="#de8643" fill-rule="evenodd"/>
<path d="M337.7,288.5L337.3,288.8L336.6,289.8L336.0,290.8L335.0,292.3L332.9,294.4L331.7,295.6L330.4,296.5L328.6,297.3L327.7,297.4L327.5,297.9L326.5,297.7L325.7,298.0L323.9,297.6L322.9,297.9L322.2,297.8L320.5,298.6L319.1,298.9L318.0,299.7L317.3,299.7L316.6,299.0L316.1,298.9L315.4,298.1L315.3,298.3L315.1,297.8L315.2,296.6L314.8,295.2L315.3,294.9L315.3,293.3L314.3,291.5L313.6,289.7L312.5,287.1L313.3,286.1L314.0,286.7L314.2,287.5L315.0,287.7L316.0,288.1L316.9,287.9L318.4,286.9L318.8,279.4L319.2,279.7L320.1,281.6L319.9,282.9L320.2,283.6L321.5,283.4L322.3,282.5L323.2,281.9L323.6,280.9L324.5,280.4L325.1,280.7L325.9,281.2L327.3,281.3L328.4,280.9L328.6,280.2L328.9,279.3L329.9,279.1L330.4,278.3L331.0,277.0L332.6,275.5L335.1,274.0L335.8,274.0L336.6,274.4L337.2,274.1L338.1,274.3L338.7,277.2L339.1,278.6L338.6,280.8L338.7,281.6L337.9,281.2L337.4,281.3L337.2,281.9L336.7,282.7L336.7,283.4L337.6,284.5L338.6,284.3L339.0,283.4L340.3,283.4L339.7,284.9L339.4,286.5L338.9,287.5Z" fill="#e79a5f" fill-rule="evenodd"/>
<path d="M472.1,193.0L470.6,192.4L470.3,190.7L471.0,189.8L472.7,189.2L473.7,189.3L474.2,190.0L473.6,190.9L473.5,192.1ZM403.7,149.8L403.4,149.3L404.7,148.3L405.7,148.0L407.4,148.2L407.7,146.9L409.6,146.7L410.0,145.9L412.2,144.8L412.3,144.4L411.8,143.2L412.7,142.7L410.2,139.3L413.0,138.5L413.7,138.0L413.6,134.5L416.9,135.2L417.4,134.3L416.7,132.3L417.9,132.1L418.6,130.8L419.1,130.7L420.1,132.0L421.8,133.1L424.2,133.8L425.9,135.4L426.2,137.7L427.1,138.5L429.1,138.9L431.3,139.2L433.6,140.4L434.7,140.6L436.1,142.4L437.4,143.6L439.2,143.6L442.6,144.0L444.6,143.8L446.3,144.1L449.1,145.3L451.0,145.3L451.9,145.9L453.4,144.8L455.6,144.1L458.0,144.0L459.5,143.3L460.2,142.3L461.0,141.6L460.5,141.0L459.6,140.2L459.9,138.9L460.9,139.1L462.6,139.5L463.7,138.4L465.7,137.7L466.2,136.4L467.0,135.8L469.1,135.5L470.5,135.8L470.3,135.1L468.2,133.7L466.6,133.1L465.8,133.8L464.2,133.5L463.4,133.7L462.6,132.9L462.7,131.0L462.6,129.5L464.9,130.3L466.3,129.0L465.8,128.2L466.0,126.1L466.5,125.5L465.9,124.4L464.8,124.0L465.4,123.0L467.1,122.7L469.0,122.6L471.6,123.2L473.3,123.9L475.5,125.9L476.5,126.7L477.8,127.9L479.5,129.8L482.5,130.4L485.1,131.8L486.8,133.6L489.1,133.6L490.0,132.9L492.2,132.3L492.5,134.0L492.3,134.8L493.0,136.9L493.0,138.8L490.9,138.5L489.9,139.2L491.2,140.9L492.2,143.2L491.4,143.3L491.9,144.3L490.3,143.1L490.3,144.2L488.2,145.1L489.0,146.1L487.6,146.1L486.5,145.4L486.1,146.9L484.8,147.9L484.1,149.2L482.1,149.8L481.3,150.7L479.8,151.3L480.3,150.4L479.6,149.6L480.3,148.2L479.0,147.2L477.9,147.9L476.7,149.3L476.2,150.6L474.7,150.7L474.3,151.6L475.6,153.0L477.1,153.3L477.5,154.2L479.0,154.8L480.3,153.4L482.0,154.1L483.1,154.2L483.7,155.2L481.7,155.8L481.3,156.9L480.1,157.9L479.8,159.3L481.9,160.4L483.3,162.4L484.9,164.3L486.5,165.8L487.0,167.3L486.1,167.9L486.8,168.9L488.0,169.6L488.2,171.2L488.3,172.8L487.4,173.0L486.8,175.2L486.1,177.8L485.2,180.2L483.3,182.1L481.3,183.8L479.4,184.0L478.6,184.9L477.9,184.3L477.1,185.3L475.0,186.3L473.2,186.6L473.0,188.7L472.1,188.8L471.4,187.4L471.7,186.6L469.3,185.9L468.5,186.3L466.7,185.8L465.8,184.9L465.8,183.8L464.2,183.4L463.2,182.7L462.0,183.7L460.4,184.0L459.0,183.9L458.2,184.5L457.4,184.7L458.1,187.1L457.1,187.0L456.9,186.5L456.7,185.7L455.6,186.3L454.8,185.9L453.4,185.1L453.6,183.5L452.4,183.1L451.7,181.2L449.9,181.5L449.7,179.2L450.9,177.5L450.6,175.8L450.2,174.3L449.4,173.8L448.6,172.6L447.6,172.7L445.8,172.4L446.1,171.6L445.1,170.3L444.1,171.2L442.6,170.7L440.9,172.0L439.7,173.5L438.5,173.7L437.6,173.2L436.7,173.1L435.4,172.7L434.6,173.2L433.8,174.7L433.4,173.1L432.4,173.5L430.4,173.3L428.5,172.9L426.9,172.0L425.5,171.6L424.8,170.6L423.8,170.3L421.9,169.0L420.4,168.4L419.8,168.9L417.2,167.4L415.3,166.2L414.4,163.9L415.6,164.2L415.5,163.2L414.6,162.1L414.4,160.5L412.1,158.1L409.2,157.3L408.3,155.8L406.9,154.8L406.5,154.3L406.0,153.1L405.8,152.3L404.7,151.9L404.3,152.1L403.4,150.2Z" fill="#e8985a" fill-rule="evenodd"/>
<path d="M307.9,127.2L307.2,125.9L307.3,125.3L306.8,124.3L306.2,123.6L306.6,123.0L306.2,122.1L307.2,121.5L309.4,120.6L311.2,120.0L312.7,120.3L312.9,120.8L314.3,120.8L316.1,121.0L318.9,121.0L319.6,121.2L320.1,121.8L320.2,122.6L320.7,123.4L320.8,124.1L320.0,124.5L320.5,125.4L320.7,126.2L321.6,127.9L321.5,128.5L320.8,128.7L319.6,130.3L320.1,131.2L319.7,131.1L318.2,130.3L317.1,130.6L316.4,130.4L315.5,130.8L314.7,130.1L314.1,130.4L314.0,130.3L313.2,129.3L312.1,129.2L311.9,128.6L310.8,128.4L310.6,128.9L309.8,128.5L309.8,127.9L308.7,127.8Z" fill="#e98f4d" fill-rule="evenodd"/>
<path d="M318.9,121.0L318.7,120.5L318.8,120.0L318.1,119.7L316.5,119.4L316.0,117.8L317.6,117.2L320.1,117.3L321.5,117.1L321.8,117.5L322.5,117.6L324.1,118.5L324.3,119.4L323.2,120.0L323.0,121.1L321.5,121.8L320.1,121.8L319.6,121.2Z" fill="#e98f4d" fill-rule="evenodd"/>
<path d="M324.8,158.4L326.0,158.3L327.3,158.4L327.2,158.8L328.1,158.5L327.9,159.1L325.6,159.3L325.6,159.0L323.6,158.6L323.8,157.7ZM327.1,147.2L326.8,147.4L325.8,147.4L325.0,147.2L323.1,147.7L324.3,148.8L323.5,149.2L322.6,149.2L321.7,148.1L321.4,148.6L321.9,149.8L322.7,150.7L322.2,151.1L323.1,152.1L324.0,152.6L324.1,153.8L322.6,153.2L323.1,154.3L322.1,154.5L322.8,156.3L321.8,156.3L320.4,155.4L319.7,153.8L319.3,152.5L318.6,151.5L317.7,150.4L317.5,149.8L318.2,148.9L318.2,148.2L318.8,147.9L318.7,147.4L319.8,147.2L320.4,146.8L321.2,146.8L321.4,146.5L321.7,146.4L322.9,146.5L324.1,145.9L325.3,146.6L326.8,146.4L326.7,145.4L327.5,146.0Z" fill="#ea9250" fill-rule="evenodd"/>
<path d="M309.8,154.2L310.0,154.8L309.7,155.9L308.5,155.1L307.6,154.9L305.3,153.9L305.5,152.8L307.4,153.0L309.0,152.8L310.3,152.6ZM300.8,150.7L300.0,150.6L299.4,151.3L298.8,150.7L298.6,148.3L298.2,147.2L299.1,147.3L299.9,146.7L300.9,148.1ZM302.5,135.3L304.0,134.9L304.4,135.6L306.6,136.1L306.5,137.1L307.0,137.9L305.7,137.6L304.5,138.4L304.6,139.3L304.4,139.9L305.0,140.9L306.5,141.9L307.4,143.6L309.3,145.2L310.5,145.2L310.9,145.6L310.5,146.0L312.0,146.7L313.2,147.3L314.6,148.4L314.8,148.7L314.5,149.5L313.6,148.5L312.2,148.2L311.6,149.5L312.8,150.2L312.7,151.3L312.0,151.4L311.2,153.1L310.6,153.3L310.5,152.7L310.8,151.6L311.1,151.2L310.4,150.0L309.9,149.0L309.2,148.7L308.7,147.9L307.7,147.5L306.9,146.7L305.8,146.6L304.5,145.7L303.0,144.4L301.8,143.2L301.3,141.3L300.5,141.0L299.2,140.4L298.5,140.6L297.6,141.6L296.9,141.7L297.1,140.8L296.2,140.6L295.8,139.1L296.3,138.5L295.8,137.7L295.9,137.2L296.6,137.6L297.3,137.5L298.2,136.8L298.4,137.1L299.2,137.1L299.5,136.3L300.6,136.5L301.3,136.2L301.4,135.4L302.4,135.7Z" fill="#ec9c5e" fill-rule="evenodd"/>
<path d="M344.0,231.5L344.3,231.7L350.6,235.8L350.7,237.0L353.2,239.0L352.3,241.5L352.4,242.6L353.5,243.3L353.5,243.8L353.0,245.0L353.1,245.7L353.0,246.6L353.5,247.9L354.2,249.9L354.8,250.3L353.4,251.5L351.5,252.3L350.5,252.2L349.8,252.8L348.6,252.9L348.2,253.1L346.1,252.6L344.8,252.7L344.4,250.0L343.8,249.0L343.5,248.5L341.8,248.1L340.9,247.5L339.8,247.2L339.1,246.8L338.4,246.3L337.5,243.8L336.5,242.7L336.2,241.5L336.4,240.5L336.1,238.6L336.8,238.5L337.4,237.8L338.1,236.8L338.5,236.3L338.5,235.7L338.2,235.2L338.1,234.4L338.6,234.2L338.7,233.0L338.0,231.9L338.6,231.6L340.5,231.7Z" fill="#eca56f" fill-rule="evenodd"/>
<path d="M336.0,236.2L335.5,235.3L335.7,234.2L336.0,234.1L336.0,232.8L336.5,232.3L337.0,232.5L338.0,231.9L338.7,233.0L338.6,234.2L338.1,234.4L338.2,235.2L338.5,235.7L338.5,236.3L338.1,236.8L337.4,237.8L336.8,238.5L336.1,238.6Z" fill="#eca56f" fill-rule="evenodd"/>
<path d="M299.9,146.3L299.2,145.9L298.8,144.6L299.1,143.8L300.1,143.1L300.4,144.8ZM280.2,131.4L282.8,132.0L282.3,129.7L283.7,130.6L287.3,129.1L287.7,127.5L289.0,127.1L289.3,127.8L290.0,127.8L290.7,128.6L291.8,129.5L292.5,129.3L293.9,130.2L294.2,130.4L294.7,130.4L295.4,130.9L297.6,131.2L296.9,132.6L296.8,134.0L296.3,134.3L295.6,134.1L295.7,134.6L294.6,135.7L294.6,136.6L295.3,136.3L295.9,137.2L295.8,137.7L296.3,138.5L295.8,139.1L296.2,140.6L297.1,140.8L296.9,141.7L295.5,142.8L292.4,142.3L290.1,142.9L290.0,144.1L288.1,144.4L286.4,143.5L285.8,143.9L282.9,143.0L282.3,142.2L283.1,141.1L283.4,137.1L281.8,135.0L280.7,134.0L278.3,133.3L278.2,131.9Z" fill="#f3bb92" fill-rule="evenodd"/>
<path d="M370.5,254.6L370.9,255.5L371.3,256.8L371.4,259.2L371.8,260.2L371.6,261.1L371.3,261.7L370.7,260.5L370.4,261.1L370.6,262.6L370.4,263.5L369.9,264.0L369.7,265.7L368.8,268.0L367.8,270.8L366.4,274.6L365.5,277.4L364.5,279.8L363.1,280.2L361.6,281.1L360.6,280.6L359.4,279.9L359.0,278.8L359.0,277.0L358.6,275.4L358.5,273.9L358.9,272.5L359.8,272.1L359.8,271.5L360.7,269.9L361.0,268.7L360.7,267.7L360.4,266.4L360.4,264.6L361.1,263.4L361.4,262.2L362.2,262.1L363.2,261.7L363.9,261.3L364.6,261.3L365.7,260.1L367.2,258.9L367.7,257.9L367.5,257.0L368.2,257.3L369.3,255.9L369.4,254.7L370.0,253.8Z" fill="#f5c39d" fill-rule="evenodd"/>
<path d="M358.5,196.8L358.2,195.9L357.7,195.3L357.5,194.5L356.6,193.8L355.6,192.1L355.0,190.4L353.7,189.1L352.9,188.7L351.7,186.8L351.4,185.4L351.4,184.2L350.2,182.0L349.4,181.2L348.4,180.8L347.8,179.6L347.9,179.2L347.3,178.1L346.8,177.6L346.0,176.2L344.9,174.5L343.9,173.1L343.1,173.1L343.2,172.0L343.2,171.3L343.4,170.5L345.3,170.8L345.9,170.2L346.3,169.5L347.5,169.2L347.7,168.5L348.2,168.2L346.4,166.2L349.6,165.2L349.9,164.9L351.9,165.4L354.5,166.8L359.6,170.9L362.8,171.0L364.3,171.2L364.8,172.2L366.0,172.2L366.8,173.9L367.7,174.4L368.0,175.1L369.3,175.9L369.5,176.7L369.4,177.4L369.7,178.1L370.2,178.7L370.5,179.3L370.8,179.8L371.4,180.2L371.8,180.1L372.2,180.8L372.3,181.3L373.2,183.4L378.4,184.4L378.7,183.9L379.6,185.4L378.8,189.4L373.9,191.4L369.0,192.2L367.5,193.1L366.4,195.2L365.7,195.6L365.2,194.9L364.5,195.0L362.9,194.8L362.5,194.6L360.6,194.6L360.1,194.8L359.4,194.3L359.0,195.3L359.2,196.1Z" fill="#f5c49d" fill-rule="evenodd"/>
<path d="M490.7,248.8L492.3,248.4L493.2,249.0L493.7,249.6L493.6,250.1L492.8,250.2ZM485.9,246.3L486.8,246.3L486.5,247.5L485.5,247.3ZM489.1,247.5L487.8,247.7L486.9,247.7L487.6,246.6L488.5,246.6L489.1,245.9L489.6,246.4L490.7,246.2L491.1,247.1ZM492.5,246.5L493.9,246.1L494.9,246.7L496.1,246.6L497.7,245.8L497.4,247.0L494.7,247.5L492.4,247.3ZM480.6,244.8L483.2,245.2L485.2,246.4L483.2,247.2L481.3,246.4L479.8,246.4L478.0,246.3L476.4,245.9L474.5,245.1L473.2,244.9L472.5,245.2L469.4,244.3L469.1,243.5L467.6,243.3L468.8,241.4L470.9,241.5L472.3,242.3L473.0,242.5L473.2,243.2L476.5,243.4L476.9,242.6L480.1,243.5ZM468.3,233.8L467.6,233.0L469.4,232.8L470.2,234.8L469.5,235.6ZM462.3,236.8L461.0,235.2L460.2,233.7L458.9,230.9L457.4,229.2L456.8,227.5L456.2,225.9L454.6,224.7L453.7,223.0L452.3,221.8L450.4,219.6L450.2,218.6L451.4,218.7L454.1,219.1L455.7,221.0L457.0,222.4L458.0,223.2L459.7,225.4L461.5,225.4L463.0,226.8L464.0,228.5L465.3,229.4L464.6,231.0L465.6,231.7L466.2,231.8L466.5,233.2L467.1,234.3L468.3,234.5L469.2,235.7L468.6,238.2L468.4,241.3L466.5,241.4L465.1,239.7L463.0,238.1ZM479.1,227.8L480.1,226.8L480.9,226.6L482.6,227.2L484.0,226.7L484.8,223.9L485.5,223.2L486.0,221.0L488.0,221.0L489.5,221.3L488.6,223.1L489.9,225.0L489.6,225.9L491.6,227.8L489.5,228.0L489.0,229.4L489.0,231.2L487.3,232.6L487.2,234.6L486.5,237.6L486.3,236.9L484.3,237.8L483.6,236.6L482.4,236.5L481.5,235.9L479.5,236.6L478.9,235.6L477.7,235.7L476.3,235.5L476.1,232.8L475.2,232.2L474.4,230.5L474.2,228.8L474.4,226.9L475.4,225.6L475.7,226.9L476.9,228.1L478.0,227.6ZM498.5,250.4L498.3,250.1L498.5,249.5L499.4,248.2L501.1,247.4L501.3,247.8L501.3,248.4L500.0,249.9ZM511.8,245.0L513.1,244.0L512.8,245.2L511.9,245.7ZM517.4,241.8L517.4,240.6L518.5,241.0L518.3,243.0L517.4,243.4ZM525.8,245.9L525.3,246.4L523.1,246.5L524.0,244.8L525.1,244.3L524.8,242.1L524.1,240.4L520.8,238.7L519.4,238.5L516.9,236.7L516.3,237.7L515.6,237.8L515.3,237.1L515.3,236.2L514.0,235.3L515.9,234.5L517.1,234.6L517.0,234.0L514.5,234.0L513.8,232.8L512.3,232.5L511.6,231.5L513.9,231.0L514.8,230.3L517.6,231.2L517.8,231.9L518.2,235.2L520.0,236.4L521.5,234.2L523.5,233.0L525.1,233.0L526.5,233.7L527.8,234.4L529.7,234.8L529.4,241.4L528.8,247.9L527.5,246.3ZM503.6,236.0L505.4,235.9L505.8,236.5L505.1,237.2L503.9,236.8ZM508.1,236.5L506.9,236.4L507.4,235.3L509.5,235.2L511.4,235.8L511.9,237.3L510.5,236.5L509.1,236.3ZM495.2,228.8L493.6,229.1L493.4,230.6L494.9,232.4L495.9,231.5L499.1,230.8L499.0,231.8L498.2,231.5L497.4,232.6L495.9,233.4L497.5,236.0L497.1,236.7L498.6,239.0L498.5,240.3L497.6,240.9L496.9,240.2L497.8,238.5L496.1,239.3L495.7,238.8L496.0,238.0L494.8,236.8L494.9,234.9L493.8,235.5L493.8,237.8L493.8,240.7L492.7,241.0L492.0,240.4L492.5,238.5L492.3,236.6L491.6,236.6L491.1,235.2L491.9,233.9L492.1,232.3L493.0,229.3L493.4,228.5L494.8,227.0L496.2,227.6L498.4,227.8L500.4,227.8L502.1,226.3L502.4,226.8L501.0,228.7L499.7,229.1L498.0,228.7ZM508.3,229.1L507.4,228.9L507.1,230.1L507.8,231.2L507.4,231.4L506.7,230.1L506.1,227.6L506.5,226.0L507.0,225.2L507.2,226.3L508.2,226.5L508.4,227.3Z" fill="#f8c8a3" fill-rule="evenodd"/>
<path d="M338.1,274.3L337.2,274.1L336.6,274.4L335.8,274.0L335.1,274.0L334.1,273.1L332.8,272.8L332.4,271.5L332.4,270.8L331.7,270.6L329.8,268.4L329.3,267.2L329.0,266.8L328.4,265.2L330.3,265.5L330.9,265.7L331.4,265.6L332.4,264.3L334.0,262.7L334.6,262.5L334.8,261.8L335.9,261.0L337.1,260.7L337.2,261.5L338.7,261.4L339.5,261.9L339.8,262.4L340.6,262.5L341.5,263.2L341.4,265.7L340.9,267.1L340.8,268.6L341.0,269.2L340.8,270.4L340.5,270.6L340.0,272.0Z" fill="#f9d2b2" fill-rule="evenodd"/>
<path d="M183.5,335.9L184.8,337.3L187.1,338.4L189.3,338.9L189.0,339.9L187.6,340.0L186.6,339.3L185.7,339.2L184.2,339.2L182.7,335.0ZM189.5,292.0L189.4,294.1L189.7,296.1L189.4,296.6L189.5,297.9L189.6,298.9L191.9,300.7L192.0,302.0L193.1,302.9L193.2,303.9L192.2,306.5L190.0,307.6L186.8,308.0L185.0,307.8L185.6,309.0L185.6,310.5L186.1,311.5L185.3,312.2L183.8,312.5L182.1,311.7L181.6,312.2L182.3,314.2L183.5,314.8L184.2,314.2L184.9,315.2L183.6,315.9L182.7,317.1L183.0,319.1L182.9,320.2L181.4,320.2L180.4,321.2L180.4,322.7L182.3,324.1L183.9,324.5L183.9,326.2L182.4,327.4L182.1,329.6L181.0,330.4L180.7,331.3L181.8,333.3L183.2,334.4L182.5,334.3L181.0,334.0L177.3,333.8L176.3,332.7L175.8,331.2L174.9,331.3L174.1,330.6L173.3,328.6L174.1,327.7L174.2,326.5L173.7,325.5L174.0,323.8L173.8,321.2L173.3,320.0L173.9,319.7L173.5,318.9L172.7,318.5L173.0,317.7L172.0,316.9L171.0,314.6L171.5,314.2L170.6,311.8L170.5,309.7L170.5,308.0L171.3,307.2L170.3,305.3L169.9,303.4L170.9,302.1L170.4,300.4L171.0,298.4L170.6,296.6L170.1,296.2L168.7,292.7L169.3,290.7L168.8,288.7L169.1,286.9L169.9,285.0L170.9,283.7L170.3,282.9L170.5,282.3L170.0,278.9L171.7,277.9L172.0,275.8L171.7,275.3L172.9,273.5L175.2,274.0L176.3,275.4L176.8,273.8L178.8,273.9L179.1,274.3L182.6,277.6L184.0,277.9L186.2,279.4L188.1,280.2L188.4,281.1L187.1,284.2L188.9,284.7L190.8,285.0L192.1,284.7L193.4,283.1L193.5,281.4L194.3,281.0L195.3,282.1L195.4,283.8L194.1,284.9L193.1,285.7L191.5,287.7L189.7,290.4Z" fill="#fbd0ad" fill-rule="evenodd"/>
<path d="M191.5,287.7L193.1,285.7L194.1,284.9L195.4,283.8L195.3,282.1L194.3,281.0L193.5,281.4L193.7,280.2L193.8,279.0L193.7,277.9L193.0,277.5L192.4,277.9L191.8,277.8L191.5,277.0L191.1,275.2L190.8,274.5L189.6,274.0L188.9,274.4L187.1,274.0L186.9,271.3L186.3,270.1L186.8,269.7L186.5,268.6L186.9,267.7L187.1,266.1L186.6,264.9L185.6,264.3L185.3,263.5L185.5,262.3L182.2,262.3L181.4,259.9L181.9,259.9L181.8,259.0L181.4,258.4L181.3,257.3L180.2,256.7L179.2,256.7L178.4,256.1L177.2,255.7L176.5,255.0L174.5,254.6L172.6,252.8L172.6,251.5L172.4,250.7L172.5,249.2L170.2,249.5L169.4,250.3L167.9,251.1L167.5,251.7L166.6,251.8L165.4,251.6L164.4,251.9L163.6,251.7L163.6,248.6L162.2,249.8L160.7,249.8L160.0,248.7L158.8,248.6L159.1,247.7L158.1,246.5L157.3,244.7L157.7,244.3L157.7,243.5L158.7,242.9L158.5,241.8L158.9,241.1L159.0,240.2L161.0,238.8L162.4,238.4L162.6,238.1L164.2,238.2L164.9,232.7L164.9,231.8L164.6,230.7L163.8,230.0L163.8,228.5L164.8,228.2L165.2,228.4L165.2,227.6L164.2,227.4L164.2,226.2L167.6,226.2L168.2,225.5L168.6,226.1L169.0,227.3L169.3,227.1L170.2,228.2L171.6,228.0L171.9,227.4L173.2,226.9L173.9,226.6L174.2,225.7L175.4,225.2L175.3,224.8L173.8,224.6L173.6,223.3L173.7,222.0L172.9,221.5L173.3,221.3L174.6,221.5L175.9,222.0L176.4,221.6L177.7,221.3L179.6,220.5L180.3,219.7L180.1,219.2L181.0,219.1L181.4,219.5L181.1,220.4L181.7,220.7L182.1,221.7L181.6,222.4L181.3,224.1L181.7,225.1L181.8,226.0L182.9,227.0L183.8,227.1L183.9,226.7L184.5,226.6L185.3,226.2L185.8,225.7L186.8,225.9L187.2,225.8L188.2,225.9L188.3,225.5L188.1,225.1L188.2,224.6L188.9,224.7L189.7,224.5L190.7,225.0L191.5,225.4L192.0,224.8L192.4,224.9L192.6,225.5L193.5,225.3L194.1,224.6L194.7,223.1L195.7,221.3L196.3,221.2L196.8,222.3L197.7,225.8L198.6,226.1L198.6,227.5L197.3,229.2L197.9,229.8L198.8,229.9L199.6,229.9L199.7,230.0L200.9,230.1L201.0,230.6L201.0,230.7L201.0,232.1L202.3,230.8L204.5,231.5L207.4,232.7L208.2,233.9L208.0,235.0L210.0,234.4L213.4,235.4L216.0,235.4L218.5,237.0L220.8,239.3L222.1,239.9L223.6,239.9L224.2,240.6L224.9,243.1L225.2,244.3L224.6,247.7L223.7,249.0L221.4,251.8L220.4,254.0L219.2,255.8L218.7,255.8L218.3,257.3L218.6,261.1L218.3,264.2L218.2,265.5L217.7,266.3L217.5,269.0L216.0,271.6L215.9,273.7L214.6,274.6L214.2,275.8L212.4,275.8L209.8,276.5L208.7,277.5L206.9,278.0L205.0,279.7L203.8,281.7L203.7,283.1L204.1,284.3L204.1,286.3L203.8,287.3L202.7,288.4L201.4,292.0L200.1,293.6L199.1,294.5L198.7,296.4L197.8,297.6L197.1,296.4L197.7,295.5L196.5,294.1L195.1,293.0L193.2,291.7L192.6,291.8L190.7,290.2L189.7,290.4Z" fill="#fcdcbf" fill-rule="evenodd"/>
<path d="M186.3,270.1L186.9,271.3L187.1,274.0L188.9,274.4L189.6,274.0L190.8,274.5L191.1,275.2L191.5,277.0L191.8,277.8L192.4,277.9L193.0,277.5L193.7,277.9L193.8,279.0L193.7,280.2L193.5,281.4L193.4,283.1L192.1,284.7L190.8,285.0L188.9,284.7L187.1,284.2L188.4,281.1L188.1,280.2L186.2,279.4L184.0,277.9L182.6,277.6L179.1,274.3L179.5,271.9L179.4,270.8L180.0,269.0L183.0,268.5L184.5,268.5L186.2,269.5Z" fill="#fce6d3" fill-rule="evenodd"/>
<path d="M15.3,185.0L15.2,185.4L15.0,185.6L14.5,185.2L15.0,184.9ZM18.7,126.1L19.2,125.5L20.7,125.3L20.4,125.9ZM23.4,125.3L23.9,124.8L25.7,124.8L25.2,125.3ZM29.2,124.7L29.2,124.4L30.5,123.9L30.5,124.3ZM33.0,123.8L33.3,123.2L35.4,122.4L35.4,122.9ZM35.7,123.0L35.9,122.5L38.6,121.6L38.3,122.3ZM41.7,120.6L42.6,119.8L44.2,119.6L46.1,119.1L48.6,118.0L50.6,117.8L51.9,117.0L54.9,115.9L55.6,115.6L57.2,114.9L58.7,113.5L60.5,112.4L58.3,113.0L58.1,112.6L56.7,113.3L56.6,112.4L55.6,113.0L56.0,112.1L53.8,112.9L53.0,112.9L53.9,111.8L54.8,111.1L54.5,110.4L52.3,110.8L51.9,109.9L51.4,109.5L52.4,108.5L52.1,107.7L53.7,106.7L55.8,105.6L57.3,104.7L58.5,104.6L59.2,104.9L61.2,104.0L62.1,104.2L63.7,103.6L64.2,102.8L63.8,102.5L65.5,101.8L64.7,101.8L62.8,102.2L62.0,102.6L61.3,102.2L59.2,102.4L57.6,102.0L57.8,101.3L57.2,100.3L59.9,99.5L63.9,98.7L65.0,98.7L63.8,99.5L66.8,99.5L66.8,98.4L65.9,97.7L65.9,96.9L65.5,96.1L64.3,95.6L66.1,94.7L68.5,94.6L71.0,93.9L72.3,93.0L74.5,92.2L76.1,92.0L79.4,91.3L80.4,91.4L83.5,90.5L85.0,90.9L85.1,91.6L86.0,91.3L88.1,91.4L87.6,91.8L89.3,92.1L90.8,91.9L92.9,92.4L95.3,92.6L96.1,92.8L98.1,92.5L99.5,93.1L100.7,93.3L94.5,99.7L85.5,109.8L86.9,109.9L87.8,110.4L88.2,111.2L88.5,112.4L90.7,111.4L92.6,110.8L92.6,111.8L93.0,112.5L93.6,113.3L93.5,114.7L93.5,116.8L95.1,118.0L94.3,119.2L92.9,120.1L92.5,119.4L91.7,118.8L92.4,117.1L91.7,115.6L92.2,113.9L90.9,113.7L88.6,113.7L87.4,113.2L86.0,111.3L84.9,110.9L82.9,110.3L80.8,110.4L78.8,109.6L77.8,108.8L75.9,109.2L75.0,110.5L74.1,110.6L72.2,110.9L70.4,111.6L68.5,112.0L69.2,110.9L71.5,109.1L73.4,108.5L73.5,108.1L70.8,109.1L68.7,110.3L65.5,111.6L65.7,112.5L63.2,113.8L61.0,114.6L59.0,115.2L58.0,116.0L54.9,117.0L53.6,117.9L51.3,118.6L50.4,118.5L48.5,119.0L46.5,119.7L44.7,120.3L41.7,120.9L41.8,120.6ZM48.2,110.5L47.8,110.0L49.6,109.7L50.5,109.9L50.0,110.6L48.8,110.9ZM51.9,104.4L51.5,104.6L50.1,105.0L49.4,104.6L49.3,104.3L47.9,104.4L47.8,104.3L48.6,103.6L49.1,103.9L50.1,103.8L50.7,104.2ZM19.5,190.0L20.1,189.5L20.0,189.1L20.2,188.9L21.1,189.4L21.6,190.4L20.1,191.3L19.8,191.6L19.4,191.3L19.6,190.7ZM20.2,187.9L20.0,188.1L19.4,188.3L19.1,187.5L19.9,187.6ZM17.3,185.9L17.7,186.8L17.6,186.9L16.9,186.8L16.8,186.3ZM112.6,131.3L117.1,131.3L121.7,131.3L126.2,131.3L131.4,131.3L136.7,131.3L139.8,131.3L140.1,130.5L140.7,130.5L140.5,131.6L140.8,131.9L141.8,132.0L143.3,132.3L144.5,132.9L145.9,132.7L147.5,133.2L148.1,133.2L149.6,132.6L150.8,133.3L152.0,134.1L153.0,134.7L154.0,135.4L154.0,135.9L154.3,136.1L154.1,136.3L154.5,136.3L154.9,136.1L154.8,136.6L155.0,136.9L155.4,136.9L155.5,137.2L155.2,137.5L156.5,138.4L156.3,140.2L156.0,141.9L155.2,143.1L154.1,144.2L153.5,144.9L153.5,145.1L153.5,145.4L154.0,145.7L154.4,145.7L156.5,144.7L158.3,144.3L160.6,143.4L160.7,143.1L160.8,142.5L160.6,142.1L161.4,141.8L163.0,141.8L164.4,141.8L165.2,141.1L165.4,140.9L167.5,139.5L168.3,139.1L170.7,139.1L173.6,139.1L173.9,138.6L174.4,138.5L175.1,138.2L176.0,137.3L176.9,135.8L178.5,134.3L178.9,134.8L180.0,134.5L180.5,135.0L179.8,137.7L180.5,138.8L180.6,139.5L178.6,140.4L176.8,141.1L175.0,141.7L173.8,142.9L173.5,143.3L173.2,144.4L173.4,145.5L174.1,145.5L174.1,144.8L174.4,145.2L174.2,145.8L173.0,146.1L172.3,146.1L171.0,146.4L170.3,146.5L169.3,146.6L167.8,147.2L170.3,146.8L170.6,147.2L168.3,147.8L167.3,147.8L167.4,147.6L166.7,148.1L167.2,148.2L166.4,149.7L164.9,151.2L164.9,150.7L164.6,150.6L164.2,150.1L164.2,151.2L164.5,151.5L164.4,152.3L163.7,153.0L162.4,154.7L162.2,154.6L163.1,153.2L162.4,152.4L162.7,150.8L162.2,151.6L162.2,152.9L161.2,152.6L162.1,153.2L161.7,155.2L162.2,155.3L162.2,156.0L161.9,158.0L160.5,159.5L158.7,160.1L157.4,161.3L156.5,161.4L155.5,162.2L155.1,162.8L153.0,164.2L151.9,165.1L150.9,166.3L150.3,167.7L150.3,169.1L150.5,170.9L151.0,172.3L150.8,173.2L151.2,175.5L150.9,176.9L150.7,177.7L150.0,178.9L149.5,179.2L148.7,178.9L148.6,178.0L148.0,177.6L147.5,175.8L147.0,174.3L146.9,173.5L147.5,172.2L147.2,171.0L146.3,169.3L145.7,169.0L143.8,170.0L143.6,169.9L143.0,168.9L142.0,168.4L140.1,168.7L138.7,168.5L137.4,168.6L136.6,168.9L136.8,169.4L136.6,170.3L136.8,170.7L136.5,170.9L135.9,170.6L135.2,171.0L134.0,170.9L133.0,169.9L131.5,170.1L130.4,169.7L129.3,169.8L127.8,170.3L126.0,171.8L124.1,172.6L123.0,173.6L122.4,174.5L122.1,175.9L122.0,176.9L122.1,177.6L121.5,177.6L120.4,177.2L119.2,176.6L118.9,175.6L118.9,174.2L118.2,173.0L117.9,171.9L117.4,170.5L116.4,169.7L115.0,169.7L113.6,171.3L112.3,170.7L111.6,170.1L111.5,169.0L111.2,167.9L110.5,167.0L109.9,166.4L109.4,165.7L106.6,165.7L106.3,166.5L105.0,166.5L101.7,166.5L98.4,165.1L96.2,164.1L96.5,163.7L94.3,164.0L92.4,164.1L92.5,163.1L91.8,161.9L91.1,161.7L91.1,161.1L90.3,161.0L89.9,160.4L88.4,160.2L88.1,159.9L88.3,158.8L87.5,156.8L87.2,154.0L87.4,153.5L87.0,152.9L86.4,151.2L86.9,149.5L86.5,148.5L87.6,146.8L88.4,145.1L88.6,143.5L90.1,141.7L91.2,139.9L92.3,138.1L93.3,135.4L93.8,133.8L93.8,132.9L94.2,132.5L96.1,133.1L95.9,135.0L96.6,134.5L97.2,132.9L97.5,131.3L101.9,131.3L106.4,131.3L107.9,131.3ZM90.1,117.8L91.5,117.1L91.2,119.3L90.5,119.7ZM89.5,114.5L90.7,114.1L89.9,116.1L88.6,117.3ZM60.9,116.0L61.5,115.1L63.4,114.4L64.4,114.2L65.2,114.3L65.3,114.9L63.3,115.7L61.3,116.5Z" fill="#fde0ca" fill-rule="evenodd"/>
<path d="M290.8,149.6L290.2,150.5L289.0,150.0L290.1,149.2ZM271.1,143.9L270.4,143.0L272.7,141.6L274.6,141.9L276.7,141.9L278.4,142.3L279.7,142.2L282.3,142.2L282.9,143.0L285.8,143.9L286.4,143.5L288.1,144.4L290.0,144.1L290.1,145.3L288.6,146.6L286.5,147.1L286.4,147.7L285.4,148.8L284.8,150.5L285.4,151.6L284.5,152.5L284.2,153.8L282.9,154.2L281.8,155.8L278.2,155.7L277.1,156.5L276.5,157.2L275.7,157.1L275.1,156.4L274.7,155.2L273.2,154.9L273.1,154.2L273.7,153.5L273.9,152.9L273.4,152.3L273.8,151.0L273.2,149.8L273.9,149.7L274.0,148.7L274.3,148.4L274.3,146.9L275.1,146.3L274.7,145.3L273.8,145.2L273.5,145.5L272.5,145.5L272.2,144.5L271.5,144.8L270.9,145.3Z" fill="#fdeada" fill-rule="evenodd"/>
<path d="M321.6,90.8L325.9,92.0L324.4,92.5L326.0,93.5L323.9,94.2L322.9,94.4L323.2,93.2L321.4,92.5L319.5,93.1L319.1,94.3L317.9,95.1L316.5,94.7L314.7,94.8L313.1,93.9L312.4,94.3L311.6,94.4L311.6,95.5L309.0,95.2L308.8,96.2L307.5,96.2L306.8,97.4L305.7,99.3L303.8,101.8L304.3,102.4L303.9,103.1L302.5,103.1L301.8,104.8L302.0,107.1L303.0,108.1L302.7,110.2L301.6,111.5L301.0,112.5L300.0,111.4L297.3,113.5L295.4,114.0L293.4,113.0L292.8,111.0L292.2,106.8L293.5,105.7L297.1,104.2L299.7,102.3L302.0,99.9L304.9,96.5L307.0,95.2L310.3,93.1L313.1,92.4L315.2,92.5L317.0,91.1L319.4,91.1Z" fill="#fdecdf" fill-rule="evenodd"/>
<path d="M311.5,115.4L311.9,115.3L311.7,116.0ZM311.9,115.3L312.2,114.3L312.7,114.3L312.5,115.1ZM314.5,102.5L312.5,103.9L310.1,105.4L309.3,108.0L310.4,109.2L311.9,110.3L310.8,112.3L309.4,112.8L309.1,115.9L308.4,117.6L306.7,117.5L305.9,118.9L304.2,119.0L303.7,117.3L302.3,115.1L301.0,112.5L301.6,111.5L302.7,110.2L303.0,108.1L302.0,107.1L301.8,104.8L302.5,103.1L303.9,103.1L304.3,102.4L303.8,101.8L305.7,99.3L306.8,97.4L307.5,96.2L308.8,96.2L309.0,95.2L311.6,95.5L311.6,94.4L312.4,94.3L314.3,95.1L316.6,96.3L317.0,99.0L317.6,99.7L315.3,100.2L314.2,101.4Z" fill="#fdecdf" fill-rule="evenodd"/>
<path d="M322.9,94.4L322.9,95.6L325.2,96.7L324.2,98.0L326.2,100.0L325.6,101.5L327.1,102.8L326.7,104.0L329.0,105.2L328.7,106.1L327.6,107.2L325.0,109.5L322.4,109.6L320.0,110.3L317.8,110.7L316.8,109.7L315.4,109.1L315.4,107.3L314.6,105.7L315.1,104.6L316.2,103.5L319.0,101.6L319.9,101.2L319.6,100.5L317.6,99.7L317.0,99.0L316.6,96.3L314.3,95.1L312.4,94.3L313.1,93.9L314.7,94.8L316.5,94.7L317.9,95.1L319.1,94.3L319.5,93.1L321.4,92.5L323.2,93.2Z" fill="#fdecdf" fill-rule="evenodd"/>
<path d="M189.7,290.4L190.7,290.2L192.6,291.8L193.2,291.7L195.1,293.0L196.5,294.1L197.7,295.5L197.1,296.4L197.8,297.6L197.2,298.9L195.6,300.0L194.3,299.6L193.4,299.8L191.8,298.9L190.7,299.0L189.5,297.9L189.4,296.6L189.7,296.1L189.4,294.1L189.5,292.0Z" fill="#fdf0e0" fill-rule="evenodd"/>
<path d="M92.0,130.2L92.0,129.7L90.7,129.3L90.7,128.3L91.1,127.8L92.5,128.2L93.2,128.5L94.5,128.7L94.6,129.4L94.9,130.3L95.9,131.1L96.0,132.2L95.1,132.5L93.0,131.6L93.0,130.9ZM88.0,125.1L87.7,124.2L87.7,123.3L87.3,122.7L87.6,121.9L88.1,121.3L88.7,121.5L90.2,121.4L88.3,123.6L88.6,125.1ZM109.2,93.4L110.9,93.6L113.6,92.9L116.1,92.5L116.4,93.2L117.7,92.8L118.7,92.0L119.5,92.2L120.3,93.7L123.1,92.5L122.1,93.8L124.0,93.5L124.9,93.0L126.4,93.1L127.8,93.9L130.3,94.5L131.9,94.8L133.3,94.7L134.4,95.5L131.8,96.4L134.0,96.7L137.7,96.5L139.1,96.2L139.7,97.3L141.8,96.4L141.0,95.7L142.3,95.1L144.0,95.0L145.2,94.8L145.9,95.2L146.6,96.2L148.2,96.0L150.0,96.8L152.2,96.5L154.1,96.6L154.7,95.5L156.1,95.2L157.8,95.8L156.7,97.4L158.4,96.1L159.4,96.1L161.2,94.4L160.5,93.3L159.4,92.7L160.8,90.8L163.2,89.6L164.7,89.9L165.5,90.6L166.0,92.5L164.3,93.3L166.5,93.6L165.4,95.4L168.0,94.1L168.9,95.1L167.7,96.4L168.3,97.6L170.4,96.3L172.3,94.9L173.5,93.0L175.3,93.1L177.1,93.4L178.3,94.2L177.9,95.1L176.4,96.0L176.8,96.9L176.2,97.7L172.9,99.0L170.9,99.2L169.8,98.7L168.9,99.6L166.7,101.1L165.9,101.8L163.6,103.0L161.6,103.1L160.1,103.9L159.3,105.1L157.6,105.3L155.0,106.7L152.4,108.8L151.0,110.2L149.7,112.3L151.7,112.7L151.4,114.4L151.4,115.8L153.6,115.4L155.9,116.2L157.0,117.0L157.6,117.8L159.2,118.4L160.4,119.2L162.8,119.3L164.3,119.4L163.3,121.1L163.0,123.0L163.2,125.1L164.7,127.0L166.1,126.3L167.7,124.4L168.1,121.3L167.5,120.3L170.2,119.5L172.4,118.1L173.8,116.8L174.2,115.6L173.9,114.0L172.8,112.6L175.3,110.7L175.5,109.0L176.3,106.2L177.5,105.8L179.7,106.3L181.0,106.5L182.4,106.0L183.4,106.6L184.7,107.6L184.8,108.3L187.2,108.5L186.6,110.0L186.1,112.3L187.3,112.6L187.9,113.7L190.4,112.7L192.5,110.7L193.8,109.8L194.3,111.4L195.3,113.8L196.1,116.0L195.1,117.2L196.7,118.2L197.7,119.3L199.9,119.8L200.7,120.4L200.8,122.0L201.8,122.3L202.2,123.0L201.8,125.2L200.5,125.9L199.2,126.6L196.5,127.3L194.2,128.8L191.5,129.2L188.4,128.7L186.1,128.7L184.5,128.9L182.8,130.3L180.6,131.1L177.6,133.7L175.3,135.5L176.7,135.2L179.9,132.6L183.6,131.0L186.0,130.8L187.0,131.8L185.2,133.1L185.1,135.2L185.2,136.7L187.0,137.6L189.6,137.4L191.7,135.1L191.5,136.6L192.3,137.3L190.0,138.6L186.3,139.8L184.5,140.6L182.4,142.0L181.3,141.8L181.6,140.2L184.8,138.5L182.3,138.6L180.5,138.8L179.8,137.7L180.5,135.0L180.0,134.5L178.9,134.8L178.5,134.3L176.9,135.8L176.0,137.3L175.1,138.2L174.4,138.5L173.9,138.6L173.6,139.1L170.7,139.1L168.3,139.1L167.5,139.5L165.4,140.9L165.2,141.1L164.4,141.8L163.0,141.8L161.4,141.8L160.6,142.1L160.8,142.5L160.7,143.1L160.6,143.4L158.3,144.3L156.5,144.7L154.4,145.7L154.0,145.7L153.5,145.4L153.5,145.1L153.5,144.9L154.1,144.2L155.2,143.1L156.0,141.9L156.3,140.2L156.5,138.4L155.2,137.5L155.5,137.2L155.4,136.9L155.0,136.9L154.8,136.6L154.9,136.1L154.5,136.3L154.1,136.3L154.3,136.1L154.0,135.9L154.0,135.4L153.0,134.7L152.0,134.1L150.8,133.3L149.6,132.6L148.1,133.2L147.5,133.2L145.9,132.7L144.5,132.9L143.3,132.3L141.8,132.0L140.8,131.9L140.5,131.6L140.7,130.5L140.1,130.5L139.8,131.3L136.7,131.3L131.4,131.3L126.2,131.3L121.7,131.3L117.1,131.3L112.6,131.3L107.9,131.3L106.4,131.3L101.9,131.3L97.5,131.3L97.3,131.3L95.5,129.3L94.9,128.5L92.6,127.7L92.8,126.0L93.8,124.8L92.4,124.0L93.1,122.5L92.2,121.1L92.9,120.1L94.3,119.2L95.1,118.0L93.5,116.8L93.5,114.7L93.6,113.3L93.0,112.5L92.6,111.8L92.6,110.8L90.7,111.4L88.5,112.4L88.2,111.2L87.8,110.4L86.9,109.9L85.5,109.8L94.5,99.7L100.7,93.3L102.8,93.7L104.0,94.5L105.3,94.7L107.1,94.0ZM158.8,93.3L159.0,93.7L159.4,94.3L158.1,94.9L156.7,94.4L155.5,94.6L154.3,93.8L155.8,93.3L157.2,92.6L158.3,93.0ZM145.8,87.9L146.5,88.4L146.2,90.0L147.4,89.3L147.9,87.7L149.2,87.4L150.3,87.7L151.1,88.4L150.7,90.0L150.2,91.1L151.7,92.0L153.5,92.8L152.8,93.5L150.5,93.6L150.9,94.3L150.0,94.9L147.8,94.7L145.9,94.2L144.3,94.3L141.4,94.9L137.8,95.1L135.4,95.3L135.3,94.5L133.8,94.0L132.5,94.2L132.0,92.9L133.1,92.7L135.3,92.4L137.1,92.5L139.0,92.2L136.8,91.8L133.9,91.9L132.1,91.9L132.0,91.3L135.5,90.6L133.5,90.6L131.7,90.2L133.9,89.0L135.3,88.3L139.6,87.3L140.6,87.6L139.3,88.4L142.6,87.9L143.6,88.7ZM162.3,88.5L161.0,90.0L158.4,90.7L157.3,90.5L156.8,89.9L154.6,88.6L155.1,88.1L157.5,88.3L156.9,87.2L159.0,86.5L160.3,86.8L162.7,86.6L162.6,87.1L160.9,87.8ZM128.9,85.7L133.3,85.5L134.8,85.8L137.9,85.9L138.7,86.4L139.4,87.0L137.5,87.5L133.3,88.6L130.7,89.8L130.0,90.5L125.9,91.3L125.9,90.6L123.8,89.7L125.0,89.0L127.0,87.8L129.1,86.7ZM150.4,83.9L150.0,82.4L151.7,81.8L152.8,82.0L152.5,82.7L152.5,83.3L153.8,83.0L155.0,83.1L154.6,83.8L153.2,84.6L148.7,84.8L144.9,85.5L143.0,85.6L143.3,85.0L146.6,84.3L140.8,84.5L139.3,84.2L142.5,82.7L144.1,82.3L147.0,82.8L148.3,83.7ZM160.0,84.5L160.8,83.6L158.6,83.7L159.6,82.5L160.9,82.5L163.2,82.0L164.8,82.1L165.1,81.9L165.4,82.6L164.8,83.4L163.3,84.6L161.1,84.8ZM159.0,82.6L157.2,82.7L157.2,82.3L158.2,82.1ZM135.7,83.2L134.4,82.8L137.7,81.7L141.3,80.7L143.1,80.7L145.0,80.5L143.6,81.7L142.1,82.2L140.9,82.3L137.9,82.9ZM149.9,79.9L151.8,79.7L153.1,80.0L152.3,80.4L149.6,80.9L148.3,80.4ZM168.1,80.2L167.4,79.8L167.4,79.3L167.9,78.7L169.4,78.7L170.0,78.8L171.0,79.3L170.1,79.9ZM165.3,80.1L163.5,79.9L162.0,79.5L159.4,79.4L161.0,79.0L159.9,78.6L160.4,78.0L162.6,78.2L165.2,78.8L165.4,79.5ZM187.6,136.3L189.1,136.2L188.1,137.1L186.3,136.5L186.0,135.4ZM201.4,130.6L202.3,130.2L203.6,130.8L202.8,132.2L204.0,131.9L203.9,132.9L204.1,134.1L203.1,135.8L202.4,135.9L201.4,135.5L202.1,133.9L201.8,133.7L199.6,135.4L198.7,135.3L200.0,134.4L198.6,133.9L196.9,134.0L194.0,134.0L193.9,133.4L195.0,132.7L194.5,132.2L196.1,131.0L198.5,127.9L199.7,126.8L201.2,126.2L201.9,126.2L201.4,126.8L200.3,128.0L198.9,129.7L200.0,129.0L200.9,129.4L200.2,130.1ZM190.1,131.1L188.3,130.5L187.2,129.6L187.7,129.4L189.6,129.9L190.9,130.7L190.9,131.0ZM173.9,106.1L174.6,106.4L173.6,107.5L172.8,107.1L172.8,106.8ZM173.4,102.4L173.0,103.2L174.1,103.1L174.8,103.7L173.3,104.3L171.4,103.8L171.0,103.0L169.1,104.0L166.7,104.9L166.8,103.8L164.8,104.0L166.5,103.1L167.4,101.7L168.8,100.1L169.7,100.3L169.5,101.0L170.4,100.8L170.9,101.2L172.1,101.8ZM183.3,95.9L184.6,95.7L185.4,96.2L185.0,97.1L182.2,97.8L182.3,96.9ZM181.6,86.6L182.7,88.3L181.9,89.4L184.7,88.9L186.3,88.2L188.6,89.1L190.0,89.8L189.7,90.6L192.3,90.2L193.1,91.3L195.9,91.9L196.7,92.6L197.2,94.2L194.4,95.0L197.0,96.1L198.9,96.5L200.1,98.1L202.2,98.2L201.3,99.4L198.0,101.4L196.7,100.7L195.3,99.0L193.4,99.2L192.8,100.2L193.8,101.2L195.3,102.0L195.7,102.5L195.8,104.3L194.8,105.6L193.3,105.1L190.4,103.6L191.7,105.2L192.7,106.3L192.7,106.9L189.2,106.2L186.7,105.1L185.4,104.3L186.1,103.8L184.5,102.9L182.9,102.0L182.7,102.5L178.5,102.8L177.7,102.2L179.3,100.9L181.8,100.9L184.7,100.6L184.6,100.0L185.5,99.1L188.1,97.5L188.1,96.7L187.9,96.1L186.3,95.3L183.9,94.7L185.0,94.2L184.1,93.2L183.0,93.1L182.3,92.5L181.4,93.0L178.9,93.2L174.3,92.9L171.9,92.4L169.9,92.1L169.2,91.5L171.1,90.8L169.2,90.8L170.0,89.1L172.0,87.6L173.7,86.9L177.3,86.5L175.6,87.6L176.0,88.6L178.0,87.3ZM165.2,86.4L166.8,86.0L169.3,86.0L171.4,86.4L168.5,87.9L166.8,88.2L164.5,89.4L163.1,89.4L163.4,87.9L164.0,87.1ZM167.9,83.7L166.4,83.0L169.0,82.4L171.4,82.4L173.5,82.9L175.1,83.6L178.5,83.8L180.7,83.5L184.2,83.5L185.6,84.1L186.0,84.7L185.5,85.1L181.3,85.3L177.6,85.5L175.0,85.6L172.3,85.3L170.2,84.9L168.9,84.6L168.9,84.4L166.6,85.1L164.8,84.8L166.1,84.0ZM169.1,80.3L171.5,80.3L172.1,80.6L171.8,80.7L169.0,80.6ZM210.0,75.0L206.6,75.8L204.5,76.2L201.6,77.3L199.0,77.6L198.0,77.9L194.3,78.0L195.8,78.2L194.8,78.5L195.2,79.2L193.7,79.7L191.5,80.1L190.5,80.7L188.5,81.2L188.4,81.5L190.5,81.4L190.3,81.8L186.4,82.7L183.5,82.3L179.7,82.6L178.0,82.4L175.8,82.3L176.2,81.6L178.7,81.2L179.0,80.1L179.9,80.0L182.6,80.7L181.7,79.7L180.0,79.4L181.4,78.8L183.8,78.5L184.6,78.0L183.5,77.4L183.6,76.7L186.8,76.7L187.6,76.9L189.8,76.4L187.4,76.2L183.2,76.3L181.6,75.8L181.3,75.3L180.3,74.9L180.6,74.5L182.6,74.2L184.0,74.2L186.5,74.0L188.7,73.5L190.0,73.6L190.8,73.9L192.5,73.2L194.2,73.0L196.4,72.9L199.8,72.9L200.3,73.0L203.7,72.8L206.1,72.9L208.4,72.9L211.3,73.0L213.6,73.2L215.4,73.5L215.0,73.9L211.8,74.4L208.8,74.7L207.5,75.0ZM174.1,79.5L173.3,78.8L173.8,78.3L175.1,77.9L173.0,77.9L172.2,77.5L172.1,76.8L173.5,76.2L174.8,75.8L176.1,75.7L176.0,75.4L178.7,75.3L179.4,76.0L181.1,76.3L182.7,76.6L182.8,77.5L183.8,78.0L181.8,78.4L178.6,79.5L176.4,79.6Z" fill="#feefe2" fill-rule="evenodd"/>
<path d="M518.2,312.4L519.2,312.1L520.6,311.7L521.5,311.9L520.3,314.2L519.4,314.9L518.3,316.5L518.1,316.0L516.2,317.4L516.0,317.3L515.0,317.2L515.0,315.5L515.5,314.2L515.5,312.4L516.0,311.5L517.0,311.7ZM532.3,258.8L533.6,258.0L534.0,258.9L534.7,259.7L534.3,260.6L534.4,262.3L534.5,263.3L534.8,263.6L535.0,265.3L534.6,266.3L534.8,267.7L536.4,268.7L537.4,269.7L538.3,270.6L538.0,271.1L538.6,272.3L538.7,274.5L539.5,274.1L539.9,274.9L540.5,274.6L540.1,276.8L541.0,278.0L541.5,278.8L542.3,280.4L542.3,282.0L541.9,283.2L541.4,284.4L541.6,286.2L540.8,287.9L540.2,288.9L539.0,290.7L538.6,291.8L537.7,293.3L536.2,295.1L534.6,296.1L533.3,297.7L532.3,298.7L531.1,300.4L530.0,301.4L528.9,302.9L528.0,304.3L527.8,305.0L526.5,305.6L524.7,305.7L522.8,306.6L521.7,307.3L520.3,308.2L519.4,307.3L518.6,307.0L519.3,305.9L518.2,306.3L516.1,307.7L515.0,307.2L514.2,306.9L513.4,306.7L512.1,306.2L511.6,304.9L512.0,303.4L512.4,301.5L511.6,301.5L510.2,301.3L511.1,300.3L511.3,298.8L510.0,300.2L508.4,300.6L509.7,299.5L510.4,298.3L511.4,297.3L511.9,295.8L509.9,297.5L508.6,298.2L507.3,299.8L506.3,299.0L506.8,298.0L506.3,296.5L505.8,295.7L506.2,295.3L504.6,294.0L503.4,294.0L502.2,293.0L499.2,293.2L496.8,293.9L494.7,294.6L493.2,294.5L491.1,295.5L489.5,296.0L488.8,297.0L487.9,297.8L486.5,297.9L485.4,298.1L484.1,297.7L482.8,297.9L481.6,298.0L480.3,299.1L479.9,299.0L478.8,299.6L477.8,300.2L476.7,300.1L475.6,300.1L474.3,298.8L473.5,298.5L474.0,297.3L474.9,297.0L475.3,296.6L475.5,295.8L476.1,294.4L476.3,293.2L476.0,291.2L476.1,290.0L476.5,288.9L476.2,287.6L476.3,287.0L475.8,286.2L476.0,284.6L475.5,283.0L475.4,282.1L476.0,283.0L475.9,281.1L476.6,281.7L476.9,282.5L477.1,281.5L476.6,279.9L476.6,279.2L476.4,278.6L476.8,277.5L477.3,277.0L477.7,276.0L477.8,274.8L478.8,273.3L478.6,274.9L479.6,273.5L481.1,272.8L482.1,271.9L483.6,271.2L484.4,271.0L484.8,271.3L486.3,270.5L487.4,270.3L487.7,269.9L488.2,269.7L489.1,269.7L491.0,269.1L492.1,268.3L492.8,267.2L493.9,266.2L494.2,265.4L494.4,264.2L495.9,262.6L496.3,264.3L497.1,263.9L496.6,262.9L497.4,262.0L498.0,262.4L498.5,260.9L499.6,259.9L500.1,259.1L501.0,258.7L501.1,258.2L501.9,258.4L501.9,257.9L502.7,257.6L503.6,257.3L504.7,258.3L505.5,259.5L506.6,259.5L507.7,259.7L507.5,258.6L508.5,256.9L509.4,256.4L509.2,255.9L510.1,254.8L511.2,254.0L512.1,254.3L513.6,253.9L513.7,252.9L512.5,252.2L513.4,251.9L514.5,252.4L515.3,253.3L516.7,253.8L517.2,253.6L518.2,254.2L519.3,253.6L519.9,253.8L520.4,253.4L521.0,254.4L520.4,255.5L519.7,256.3L519.1,256.3L519.1,257.1L518.5,258.1L517.7,259.2L517.7,259.7L518.9,260.8L520.1,261.5L520.9,262.2L521.9,263.4L522.4,263.4L523.2,263.9L523.3,264.5L524.8,265.2L526.1,264.5L526.6,263.4L527.1,262.5L527.6,261.4L528.4,259.8L528.3,258.8L528.5,258.2L528.5,257.1L529.0,255.6L529.3,255.2L529.2,254.5L529.7,253.4L530.2,252.3L530.3,251.8L531.1,251.0L531.4,252.0L531.4,253.2L531.8,253.5L531.7,254.3L532.2,255.4L532.2,256.5L532.0,257.2Z" fill="#fff6e6" fill-rule="evenodd"/>
<path d="M397.6,144.5L396.8,144.9L395.0,146.3L394.7,147.7L394.1,147.8L393.4,146.8L391.4,146.7L390.7,145.1L389.9,145.1L389.5,143.1L387.3,141.6L384.6,141.8L382.8,142.1L380.9,140.3L379.4,139.5L376.7,138.1L376.3,137.9L372.6,139.1L374.2,146.5L373.5,146.6L372.0,145.0L370.8,144.4L369.1,144.8L368.6,145.5L368.4,145.0L368.6,144.2L368.2,143.5L366.2,142.8L365.1,141.0L364.2,140.5L364.0,139.9L365.5,140.1L365.3,138.6L366.6,138.3L368.0,138.6L367.8,136.7L367.3,135.5L365.8,135.6L364.3,135.1L362.7,135.9L361.4,136.3L360.5,136.0L360.5,135.0L359.2,133.7L358.1,133.8L356.5,132.4L357.1,131.0L356.5,130.5L357.3,128.4L359.1,129.6L359.0,128.1L361.6,126.0L363.9,126.0L367.6,127.3L369.6,128.1L371.0,127.3L373.4,127.3L375.6,128.2L375.8,127.7L378.0,127.8L378.1,126.8L375.3,125.5L376.4,124.6L376.0,124.1L377.3,123.6L375.8,122.3L376.3,121.6L381.6,121.0L382.2,120.5L385.6,119.8L386.6,119.0L389.4,119.4L390.6,121.4L392.0,120.9L394.1,121.5L394.4,122.6L395.8,122.5L398.8,120.7L398.5,121.3L401.0,122.8L406.2,127.6L406.6,126.6L409.2,127.7L411.1,127.2L412.1,127.6L413.3,128.7L414.5,129.1L415.4,129.9L417.3,129.6L418.6,130.8L417.9,132.1L416.7,132.3L417.4,134.3L416.9,135.2L413.6,134.5L413.7,138.0L413.0,138.5L410.2,139.3L412.7,142.7L411.8,143.2L412.3,144.4L411.2,144.1L410.2,143.4L407.8,143.2L405.1,143.1L404.6,143.3L402.1,142.5L401.4,142.9L401.5,144.1L398.7,143.4L397.7,143.7Z" fill="#fff8ec" fill-rule="evenodd"/>
<path d="M397.6,144.5L397.7,143.7L398.7,143.4L401.5,144.1L401.4,142.9L402.1,142.5L404.6,143.3L405.1,143.1L407.8,143.2L410.2,143.4L411.2,144.1L412.3,144.4L412.2,144.8L410.0,145.9L409.6,146.7L407.7,146.9L407.4,148.2L405.7,148.0L404.7,148.3L403.4,149.3L403.7,149.8L403.4,150.2L400.4,150.5L398.3,149.9L396.6,150.0L396.5,148.9L398.3,149.2L398.7,148.6L400.0,148.8L401.7,147.3L399.5,146.3L398.5,146.8L397.1,146.0L398.1,144.7Z" fill="#fff8ec" fill-rule="evenodd"/>
<path d="M280.3,219.6L279.5,219.6L278.3,219.2L277.2,219.2L275.2,219.6L273.9,220.2L272.2,220.9L271.9,220.9L272.0,219.2L272.2,218.9L272.1,218.1L271.4,217.3L270.9,217.2L270.4,216.6L270.7,215.7L270.6,214.8L270.7,214.2L270.9,214.2L271.0,213.3L270.9,212.9L271.1,212.6L271.7,212.4L271.3,210.8L270.9,210.0L271.0,209.3L271.4,209.1L271.6,208.9L272.1,209.2L273.4,209.3L273.7,208.7L274.1,208.7L274.5,208.5L274.8,209.3L275.2,209.1L275.9,208.8L276.7,209.2L277.0,209.9L277.8,210.3L278.4,209.8L279.2,209.7L280.4,210.3L280.8,213.1L280.1,214.8L279.6,217.1L280.4,218.8Z" fill="#fef4e5" fill-rule="evenodd"/>
<path d="M311.7,214.7L313.1,214.6L313.4,214.1L313.7,214.1L314.1,214.5L316.3,213.8L317.0,213.0L317.9,212.3L317.7,211.6L318.2,211.4L319.9,211.5L321.5,210.6L322.7,208.4L323.6,207.6L324.7,207.2L324.9,208.1L325.9,209.4L325.9,210.2L325.6,211.0L325.8,211.6L326.4,212.2L327.7,213.1L328.7,213.9L328.7,214.6L329.9,215.6L330.6,216.5L331.1,217.7L332.4,218.5L332.6,219.1L332.1,219.3L331.0,219.3L329.7,219.0L329.0,219.2L328.8,219.7L328.2,219.8L327.5,219.3L325.6,220.4L324.8,220.2L324.6,220.3L324.1,221.5L322.8,221.1L321.5,220.9L320.4,220.2L319.0,219.5L318.0,220.2L317.4,221.2L317.2,222.6L316.1,222.5L314.9,222.1L313.9,223.2L313.0,225.0L312.8,224.5L312.7,223.6L312.0,222.9L311.3,221.9L311.2,221.2L310.3,220.1L310.5,219.5L310.3,218.7L310.4,217.1L310.8,216.7Z" fill="#fef4e5" fill-rule="evenodd"/>
<path d="M313.9,242.9L314.4,244.1L314.8,244.7L315.5,245.8L316.6,245.6L317.2,245.4L318.1,245.6L318.4,245.1L318.8,244.0L319.9,243.9L320.0,243.5L320.9,243.5L320.7,244.2L322.8,244.2L322.9,245.5L323.2,246.3L322.9,247.5L323.0,248.7L323.6,249.4L323.5,251.8L323.9,251.7L324.6,251.7L325.7,251.4L326.5,251.5L326.7,252.2L326.4,253.1L326.7,254.1L326.4,254.8L326.6,255.5L323.0,255.5L322.7,261.9L323.8,263.5L324.9,264.8L321.8,265.6L317.6,265.3L316.5,264.4L309.5,264.4L309.3,264.6L308.3,263.7L307.2,263.6L306.1,264.0L305.3,264.3L305.2,263.1L305.4,261.3L306.0,259.5L306.2,258.6L306.7,256.8L307.2,256.0L308.2,254.7L308.7,253.8L308.9,252.3L308.9,251.1L308.4,250.4L307.9,249.2L307.5,248.0L307.6,247.6L308.1,246.8L307.6,244.8L307.3,243.5L306.4,242.2L306.6,241.8L307.3,241.6L307.8,241.6L308.4,241.4L313.5,241.4ZM306.3,241.2L305.9,239.7L306.6,238.8L307.1,238.5L307.8,239.2L307.1,239.6L306.8,240.1L306.8,241.0Z" fill="#fef4e5" fill-rule="evenodd"/>
<path d="M301.0,168.6L300.2,165.0L299.1,164.2L299.1,163.7L297.7,162.5L297.6,160.9L298.6,159.8L298.9,158.2L298.6,156.2L298.9,155.2L300.6,154.4L301.8,154.6L301.8,155.7L303.1,154.9L303.2,155.3L302.5,156.3L302.5,157.2L303.1,157.7L302.9,159.5L301.9,160.5L302.2,161.6L303.1,161.6L303.5,162.6L304.1,162.9L304.1,164.4L303.3,165.0L302.8,165.7L301.7,166.4L301.9,167.3L301.8,168.1Z" fill="#fef4e5" fill-rule="evenodd"/>
<path d="M376.1,196.2L375.0,196.7L374.7,197.6L374.7,198.3L373.0,199.1L370.3,200.1L368.9,201.5L368.1,201.6L367.6,201.5L366.6,202.3L365.6,202.7L364.1,202.8L363.7,202.9L363.4,203.4L362.9,203.6L362.7,204.1L361.8,204.1L361.3,204.3L360.1,204.2L359.6,203.1L359.6,202.0L359.3,201.4L358.9,199.9L358.3,199.1L358.7,199.0L358.4,198.0L358.6,197.7L358.5,196.8L359.2,196.1L359.0,195.3L359.4,194.3L360.1,194.8L360.6,194.6L362.5,194.6L362.9,194.8L364.5,195.0L365.2,194.9L365.7,195.6L366.4,195.2L367.5,193.1L369.0,192.2L373.9,191.4L375.5,194.8Z" fill="#fef4e5" fill-rule="evenodd"/>
<path d="M146.2,183.0L147.7,183.1L149.0,183.1L150.5,183.8L151.0,184.6L152.6,184.4L153.2,184.8L154.4,186.1L155.4,187.0L155.9,187.0L156.9,187.4L156.7,187.9L157.9,188.0L159.1,188.8L158.8,189.3L157.7,189.6L156.5,189.7L155.4,189.5L152.9,189.7L154.2,188.6L153.6,188.1L152.5,187.9L152.0,187.3L151.7,186.2L150.8,186.3L149.3,185.7L148.8,185.3L146.7,185.0L146.1,184.6L146.8,184.1L145.2,184.0L143.8,185.0L143.1,185.1L142.8,185.6L141.9,185.8L141.2,185.6L142.2,185.0L142.7,184.2L143.5,183.8L144.4,183.4L145.8,183.2Z" fill="#fef4e5" fill-rule="evenodd"/>
<path d="M280.4,210.3L279.2,209.7L278.4,209.8L277.8,210.3L277.0,209.9L276.7,209.2L275.9,208.8L275.8,207.6L276.3,206.8L276.3,206.1L277.6,204.4L277.9,203.0L278.4,202.6L279.2,202.8L279.9,202.4L280.1,201.9L281.5,201.0L281.8,200.4L283.4,199.5L284.4,199.2L284.8,199.6L285.9,199.6L285.8,200.6L286.0,201.5L287.0,202.8L287.0,203.8L289.0,204.2L289.0,205.6L288.6,206.2L287.7,206.4L287.4,207.3L286.8,207.5L285.3,207.5L284.5,207.3L283.9,207.6L283.2,207.5L280.2,207.6L280.1,208.7Z" fill="#fde9d8" fill-rule="evenodd"/>
<path d="M299.9,119.8L299.9,120.5L301.4,120.9L301.5,121.6L302.9,121.2L303.7,120.7L305.5,121.5L306.2,122.1L306.6,123.0L306.2,123.6L306.8,124.3L307.3,125.3L307.2,125.9L307.9,127.2L307.3,127.4L306.8,127.1L306.5,127.5L305.4,127.9L304.9,128.4L303.8,128.8L304.1,129.4L304.3,130.2L305.1,130.6L306.0,131.5L305.6,132.4L305.0,132.6L305.3,133.9L305.2,134.2L304.7,133.9L303.9,133.8L302.9,134.1L301.5,134.0L301.3,134.6L300.5,134.0L300.0,134.1L298.4,133.5L298.1,134.0L296.8,134.0L296.9,132.6L297.6,131.2L295.4,130.9L294.7,130.4L294.7,129.5L294.4,129.1L294.6,127.8L294.2,125.7L295.1,125.7L295.5,125.0L295.8,123.3L295.5,122.6L295.8,122.2L297.0,122.1L297.3,122.5L298.3,121.6L297.9,120.9L297.8,119.8L298.9,120.0Z" fill="#fde9d8" fill-rule="evenodd"/>
<path d="M316.0,117.8L315.9,116.4L316.5,115.2L317.8,114.6L319.1,115.9L320.3,115.9L320.3,114.5L321.5,114.2L322.2,114.4L323.5,115.1L324.7,115.1L325.5,115.5L325.8,116.4L326.4,117.5L324.9,118.2L324.1,118.5L322.5,117.6L321.8,117.5L321.5,117.1L320.1,117.3L317.6,117.2Z" fill="#fde9d8" fill-rule="evenodd"/>
<path d="M320.3,114.5L320.4,113.4L319.9,113.6L318.9,113.0L318.6,111.9L320.3,111.4L322.1,111.1L323.7,111.4L325.1,111.4L325.4,111.7L324.6,112.8L325.3,114.5L324.7,115.1L323.5,115.1L322.2,114.4L321.5,114.2Z" fill="#fde9d8" fill-rule="evenodd"/>
<path d="M303.1,120.1L301.5,119.0L301.2,118.2L303.3,117.6L303.8,118.6ZM297.2,118.7L297.0,116.8L297.3,116.3L297.6,115.8L298.9,115.6L299.4,115.1L300.5,114.6L300.5,115.6L300.1,116.2L300.3,116.7L301.1,117.0L300.8,117.7L300.4,117.5L299.4,118.8L299.9,119.8L298.9,120.0L297.8,119.8Z" fill="#fde9d8" fill-rule="evenodd"/>
<path d="M294.3,122.5L295.5,122.6L295.8,123.3L295.5,125.0L295.1,125.7L294.2,125.7L294.6,127.8L293.7,127.3L292.7,126.4L291.4,126.8L290.2,126.7L291.0,126.2L292.3,123.4Z" fill="#fde9d8" fill-rule="evenodd"/>
<path d="M290.2,126.7L291.4,126.8L292.7,126.4L293.7,127.3L294.6,127.8L294.4,129.1L294.0,129.1L293.9,130.2L292.5,129.3L291.8,129.5L290.7,128.6L290.0,127.8L289.3,127.8L289.0,127.1Z" fill="#fde9d8" fill-rule="evenodd"/>
<path d="M320.2,133.4L320.8,133.0L321.8,133.2L322.8,133.2L323.5,133.7L324.0,133.4L325.1,133.2L325.5,132.8L326.1,132.8L326.6,133.0L327.1,133.5L327.7,134.4L328.8,135.5L328.9,136.4L328.8,137.3L329.2,138.1L330.0,138.5L330.7,138.2L331.4,138.5L331.5,139.0L330.8,139.5L330.3,139.3L330.1,141.7L329.2,141.5L328.0,140.7L326.2,141.2L325.5,141.7L323.1,141.6L321.9,141.3L321.3,141.5L320.8,140.6L320.5,140.3L320.8,139.9L320.4,139.7L319.9,140.1L319.0,139.6L318.8,138.8L317.8,138.3L317.6,137.7L316.6,136.9L317.9,136.5L318.7,135.2L319.3,133.9Z" fill="#fde9d8" fill-rule="evenodd"/>
<path d="M326.1,132.8L326.4,132.5L327.4,132.3L328.6,132.9L329.3,133.0L330.0,133.5L330.0,134.2L330.6,134.5L331.0,135.3L331.6,135.8L331.5,136.1L331.8,136.3L331.4,136.4L330.5,136.4L330.3,136.1L330.0,136.3L330.1,136.6L329.8,137.3L329.6,137.9L329.2,138.1L328.8,137.3L328.9,136.4L328.8,135.5L327.7,134.4L327.1,133.5L326.6,133.0Z" fill="#fde9d8" fill-rule="evenodd"/>
<path d="M332.9,125.2L333.5,125.3L333.8,124.9L334.3,125.0L335.8,124.8L336.9,125.9L336.6,126.3L336.8,126.9L338.1,127.0L338.8,127.8L338.8,128.2L340.8,128.9L341.9,128.6L343.0,129.5L343.9,129.4L346.3,130.1L346.4,130.6L346.0,131.7L346.5,132.8L346.4,133.4L344.9,133.5L344.2,134.1L344.3,135.0L343.1,135.1L342.2,135.8L340.7,135.9L339.5,136.6L339.8,137.8L340.6,138.3L342.2,138.2L342.0,138.9L340.3,139.2L338.3,140.4L337.4,140.0L337.6,139.1L335.8,138.5L336.1,138.1L337.5,137.4L337.0,137.0L334.5,136.5L334.3,135.7L332.9,136.0L332.4,137.1L331.4,138.5L330.7,138.2L330.0,138.5L329.2,138.1L329.6,137.9L329.8,137.3L330.1,136.6L330.0,136.3L330.3,136.1L330.5,136.4L331.4,136.4L331.8,136.3L331.5,136.1L331.6,135.8L331.0,135.3L330.6,134.5L330.0,134.2L330.0,133.5L329.3,133.0L328.6,132.9L327.4,132.3L326.4,132.5L326.1,132.8L325.5,132.8L325.1,133.2L324.0,133.4L323.5,133.7L322.8,133.2L321.8,133.2L320.8,133.0L320.2,133.4L320.0,132.9L319.1,132.4L319.3,131.6L319.7,131.1L320.1,131.2L319.6,130.3L320.8,128.7L321.5,128.5L321.6,127.9L320.7,126.2L321.4,126.2L322.1,125.7L323.3,125.6L324.8,125.8L326.6,126.2L327.7,126.3L328.4,126.5L328.9,126.2L329.3,126.7L330.7,126.6L331.3,126.8L331.3,125.8L331.7,125.4Z" fill="#fde9d8" fill-rule="evenodd"/>
<path d="M346.3,147.2L348.1,146.9L349.5,147.1L351.2,146.0L352.9,145.9L354.6,146.9L355.0,147.6L355.0,148.6L356.3,149.1L357.0,149.7L356.0,150.2L356.8,152.5L356.6,153.1L357.7,154.8L357.0,155.1L356.3,154.6L354.4,154.3L353.8,154.6L352.0,155.0L351.1,154.9L349.3,155.7L348.0,155.7L347.1,155.3L345.4,155.9L344.8,155.5L344.8,156.6L344.5,157.0L344.1,157.5L343.4,156.6L343.9,155.8L342.9,156.0L341.5,155.5L340.5,156.7L338.1,156.9L336.7,155.8L334.9,155.7L334.6,156.6L333.5,156.8L331.8,155.7L330.1,155.8L328.9,153.8L327.7,152.7L328.3,151.1L327.2,150.2L328.8,148.2L331.3,148.2L331.8,146.6L334.8,146.9L336.6,145.6L338.4,145.0L341.0,145.0L343.9,146.4ZM327.4,148.8L326.8,147.8L326.8,147.4L327.1,147.2L327.5,146.0L326.7,145.4L328.2,144.8L329.6,145.1L329.9,145.8L331.3,146.5L331.1,147.0L329.2,147.1L328.6,147.7Z" fill="#fde9d8" fill-rule="evenodd"/>
<path d="M163.2,190.0L163.4,189.7L164.7,189.7L165.7,190.2L166.2,190.1L166.4,190.8L167.3,190.8L167.2,191.4L167.9,191.5L168.7,192.2L168.0,193.0L167.2,192.6L166.4,192.7L165.9,192.6L165.5,192.9L164.9,193.1L164.7,192.6L164.1,192.9L163.2,194.2L162.8,193.9L162.8,193.4L162.9,192.8L162.5,192.2L163.0,191.9L163.2,191.1Z" fill="#fde9d8" fill-rule="evenodd"/>
<path d="M256.5,202.3L255.8,200.7L255.0,200.0L255.8,199.6L256.6,198.2L257.1,197.2L257.7,196.5L258.5,196.7L259.3,196.3L260.3,196.3L261.1,196.9L262.2,197.4L263.2,198.9L264.4,200.2L264.4,201.5L264.7,202.7L265.4,203.2L265.5,204.0L265.4,204.6L265.2,204.7L264.2,204.6L264.1,204.8L263.7,204.9L262.5,204.3L261.7,204.3L258.5,204.2L258.0,204.5L257.5,204.4L256.5,204.8L256.3,203.2Z" fill="#fcdcc2" fill-rule="evenodd"/>
<path d="M300.0,220.0L298.2,220.8L297.5,220.7L296.9,221.1L295.5,221.1L294.5,219.8L294.0,218.3L292.7,217.0L291.4,217.0L289.9,217.0L290.0,213.8L290.0,212.5L290.3,211.3L290.8,210.7L291.7,209.4L291.5,208.9L291.8,208.1L291.4,206.9L291.5,206.2L291.6,204.4L292.1,203.6L292.3,202.4L292.8,202.0L294.6,201.8L296.3,202.5L297.0,203.3L297.9,203.3L298.7,202.8L300.8,203.8L301.6,203.8L302.6,202.9L303.7,203.0L304.1,202.7L305.1,202.8L306.4,203.4L307.7,202.3L308.1,202.4L309.3,204.6L309.7,204.5L310.4,205.3L310.2,205.7L310.1,206.4L308.7,207.9L308.2,209.2L308.0,210.3L307.6,210.7L307.3,212.1L306.4,212.9L306.1,214.0L305.7,214.8L305.6,215.6L304.4,216.3L303.4,215.4L302.8,215.5L301.7,216.7L301.2,216.7L300.4,218.6Z" fill="#fcdcc2" fill-rule="evenodd"/>
<path d="M279.4,114.9L280.8,114.7L282.4,114.7L282.0,116.2L280.7,117.9L282.2,118.0L283.6,120.4L284.6,120.7L285.5,122.9L286.0,123.7L287.8,124.0L287.6,125.2L286.8,125.8L287.4,126.8L286.1,127.8L284.1,127.8L281.5,128.3L280.8,127.9L279.8,128.9L278.4,128.6L277.3,129.4L276.5,129.0L278.7,127.0L280.1,126.5L277.8,126.2L277.3,125.5L278.9,124.9L278.1,123.8L278.4,122.6L280.7,122.8L280.9,121.7L279.9,120.4L278.1,120.1L277.8,119.6L278.3,118.8L277.9,118.2L277.0,119.1L277.0,117.3L276.3,116.4L276.9,114.4L278.1,112.9L279.2,113.1L280.9,112.9ZM276.1,121.9L275.0,121.5L274.0,121.5L274.4,120.5L274.1,119.5L275.4,119.4L276.9,120.6Z" fill="#fcdcc2" fill-rule="evenodd"/>
<path d="M270.9,145.3L271.5,144.8L272.2,144.5L272.5,145.5L273.5,145.5L273.8,145.2L274.7,145.3L275.1,146.3L274.3,146.9L274.3,148.4L274.0,148.7L273.9,149.7L273.2,149.8L273.8,151.0L273.4,152.3L273.9,152.9L273.7,153.5L273.1,154.2L273.2,154.9L272.5,155.4L271.7,155.1L270.8,155.4L271.1,153.8L271.0,152.5L270.3,152.4L269.9,151.6L270.1,150.3L270.8,149.6L270.9,148.8L271.3,147.6L271.3,146.7L271.0,146.0Z" fill="#fcdcc2" fill-rule="evenodd"/>
<path d="M314.5,137.3L315.0,138.1L315.5,138.6L315.0,139.4L314.2,139.0L313.1,139.0L311.8,138.7L311.0,138.7L310.7,139.1L310.1,138.7L309.9,139.5L310.7,140.4L311.1,141.0L311.9,141.8L312.5,142.2L313.1,143.0L314.6,143.8L314.4,144.1L312.9,143.4L311.9,142.7L310.5,142.1L309.0,140.6L309.4,140.5L308.6,139.6L308.5,139.0L307.5,138.7L307.1,139.5L306.6,138.8L306.6,138.2L306.6,138.1L307.7,138.2L308.0,137.9L308.5,138.2L309.1,138.2L309.1,137.7L309.6,137.5L309.7,136.7L310.9,136.2L311.4,136.4L312.7,137.2L314.0,137.6Z" fill="#fcdcc2" fill-rule="evenodd"/>
<path d="M338.6,158.8L338.8,158.8L338.9,158.3L340.1,158.4L341.5,157.8L340.5,158.6L340.7,159.2L339.2,160.0L338.3,159.7L337.9,158.9Z" fill="#fcdcc2" fill-rule="evenodd"/>
<path d="M454.6,189.0L453.7,189.9L452.5,190.0L452.1,192.2L451.4,192.5L452.5,194.3L453.8,195.8L454.6,197.1L454.2,198.9L453.7,199.2L454.2,200.2L455.6,201.8L455.9,203.0L455.9,203.9L456.8,205.7L456.0,207.6L455.3,209.7L455.1,208.2L455.5,206.6L454.8,205.5L454.7,203.3L453.9,202.2L453.1,199.8L452.4,197.3L451.5,195.6L450.5,196.6L448.7,198.1L447.7,197.9L446.6,197.4L446.9,194.9L446.3,193.0L444.6,190.7L444.7,190.0L443.7,189.7L442.2,188.1L441.8,186.4L442.5,186.8L442.3,185.3L443.0,184.8L442.7,184.0L443.0,183.3L442.7,181.2L444.1,181.6L444.5,180.0L444.4,179.0L445.0,177.3L444.7,176.2L446.6,174.8L447.8,175.1L447.4,173.9L447.9,173.5L447.6,172.7L448.6,172.6L449.4,173.8L450.2,174.3L450.6,175.8L450.9,177.5L449.7,179.2L449.9,181.5L451.7,181.2L452.4,183.1L453.6,183.5L453.4,185.1L454.8,185.9L455.6,186.3L456.7,185.7L456.9,186.5L455.7,187.8L455.5,188.6Z" fill="#fcdcc2" fill-rule="evenodd"/>
<path d="M265.7,98.9L265.3,100.0L266.7,101.2L264.8,102.6L260.7,103.8L259.5,104.1L257.7,103.8L253.9,103.3L255.4,102.5L252.5,101.6L255.0,101.3L255.0,100.8L252.2,100.4L253.3,99.2L255.4,99.0L257.3,100.1L259.5,99.2L261.2,99.7L263.5,98.8Z" fill="#f8cba7" fill-rule="evenodd"/>
<path d="M306.6,136.1L307.9,136.3L308.7,135.8L310.0,135.8L310.3,135.5L310.6,135.5L310.9,136.2L309.7,136.7L309.6,137.5L309.1,137.7L309.1,138.2L308.5,138.2L308.0,137.9L307.7,138.2L306.6,138.1L307.0,137.9L306.5,137.1Z" fill="#f8cba7" fill-rule="evenodd"/>
<path d="M320.8,140.6L321.3,141.5L321.9,141.3L323.1,141.6L325.5,141.7L326.2,141.2L328.0,140.7L329.2,141.5L330.1,141.7L329.4,142.5L329.0,143.9L329.6,145.1L328.2,144.8L326.7,145.4L326.8,146.4L325.3,146.6L324.1,145.9L322.9,146.5L321.7,146.4L321.5,145.1L320.7,144.4L320.9,144.2L320.7,143.9L320.9,143.3L321.5,142.7L320.6,141.8L320.4,141.1Z" fill="#f8cba7" fill-rule="evenodd"/>
<path d="M344.8,252.7L346.1,252.6L348.2,253.1L348.6,252.9L349.8,252.8L350.5,252.2L351.5,252.3L353.4,251.5L354.8,250.3L355.1,251.2L354.9,253.2L355.1,255.0L355.0,258.1L355.3,259.1L354.7,260.5L353.9,261.9L352.8,263.2L351.2,263.9L349.2,264.9L347.1,267.1L346.5,267.4L345.2,268.9L344.5,269.3L344.2,270.8L345.0,272.3L345.2,273.5L345.2,274.1L345.5,274.0L345.3,276.0L345.0,276.9L345.4,277.3L345.1,278.1L344.3,278.8L342.9,279.5L340.8,280.6L340.0,281.3L340.1,282.2L340.5,282.3L340.3,283.4L339.0,283.4L338.9,282.5L338.7,281.6L338.6,280.8L339.1,278.6L338.7,277.2L338.1,274.3L340.0,272.0L340.5,270.6L340.8,270.4L341.0,269.2L340.8,268.6L340.9,267.1L341.4,265.7L341.5,263.2L340.6,262.5L339.8,262.4L339.5,261.9L338.7,261.4L337.2,261.5L337.1,260.7L337.0,259.3L342.3,257.6L343.3,258.6L343.7,258.4L344.4,258.9L344.5,259.7L344.1,260.7L344.1,262.1L345.2,263.3L345.8,262.0L346.5,261.5L346.5,258.9L345.9,257.5L345.3,256.8L344.7,256.9L344.3,254.2Z" fill="#f3b88e" fill-rule="evenodd"/>
<path d="M276.1,121.9L276.3,123.2L275.1,124.9L272.4,126.1L270.3,125.8L271.6,123.8L270.9,121.8L273.0,120.4L274.1,119.5L274.4,120.5L274.0,121.5L275.0,121.5Z" fill="#f3b88e" fill-rule="evenodd"/>
<path d="M317.9,145.4L317.8,146.0L318.1,146.9L318.7,147.4L318.8,147.9L318.2,148.2L318.2,148.9L317.5,149.8L317.3,149.7L317.2,149.2L316.3,148.6L316.1,147.6L316.1,146.3L316.3,145.6L316.0,145.3L315.8,144.7L316.4,143.7L316.6,144.1L317.0,143.9L317.3,144.4L317.7,144.6Z" fill="#f3b88e" fill-rule="evenodd"/>
<path d="M503.7,217.0L502.9,215.0L502.2,216.0L502.8,217.5L502.4,218.4L500.3,217.2L499.7,215.8L500.1,214.8L499.0,213.9L498.5,214.7L497.7,214.6L496.5,215.8L496.1,215.2L496.7,213.5L497.7,212.9L498.6,212.2L499.3,213.1L500.6,212.5L500.8,211.6L502.0,211.6L501.7,210.0L503.2,211.0L503.5,212.0L503.7,212.7L503.9,214.1L504.1,215.2ZM489.9,210.9L487.8,212.8L488.5,211.4L489.6,210.2L490.5,208.8L491.2,206.8L491.7,208.4L490.7,209.5ZM498.2,210.9L497.7,211.5L496.5,210.1L496.8,209.6L497.2,209.0L497.3,207.8L498.2,207.6L498.1,209.0L499.1,207.1L499.2,209.0L498.6,209.6ZM495.2,205.7L496.3,206.4L497.4,206.4L496.6,206.5L495.7,208.6L495.6,207.7L495.6,206.7ZM500.8,207.6L501.4,208.8L500.6,209.3L500.4,207.8L499.9,207.7L499.5,206.5L500.5,206.7L500.4,205.9L499.1,204.4L500.8,204.4L501.4,205.2L502.1,207.4L500.7,206.9ZM492.1,202.6L493.6,202.6L494.3,203.4L494.1,205.1L493.2,204.1ZM494.1,193.0L494.0,193.8L494.8,195.3L494.6,196.9L493.7,197.6L493.7,199.2L494.3,200.8L495.2,201.1L496.0,200.8L498.3,201.9L498.3,203.0L498.9,203.5L498.8,204.4L497.4,203.4L496.6,202.4L496.2,203.1L495.0,201.9L493.5,202.2L492.5,201.8L492.5,201.0L493.0,200.4L492.4,200.0L492.3,200.7L491.3,199.5L490.9,198.7L490.5,196.7L491.3,197.4L491.0,194.2L491.2,192.4L492.2,192.4L493.4,193.0L493.8,192.5Z" fill="#f3b88e" fill-rule="evenodd"/>
<path d="M172.2,192.4L173.0,192.6L173.3,193.0L172.8,193.5L171.5,193.5L170.5,193.5L170.5,192.7L170.8,192.4Z" fill="#f3b88e" fill-rule="evenodd"/>
<path d="M194.1,224.6L193.5,225.3L192.6,225.5L192.4,224.9L192.0,224.8L191.5,225.4L190.7,225.0L191.2,224.1L191.3,223.2L191.7,222.3L191.0,221.2L190.9,219.8L191.8,218.0L192.4,218.3L193.7,218.7L195.5,220.4L195.7,221.3L194.7,223.1Z" fill="#f3b88e" fill-rule="evenodd"/>
<path d="M276.8,157.6L277.8,158.5L279.3,158.3L281.0,158.8L281.7,158.8L282.3,160.1L282.4,161.3L283.0,163.4L283.4,163.9L283.1,164.7L280.9,165.0L280.2,165.7L279.2,165.9L279.1,167.4L277.2,168.2L276.6,169.2L275.2,169.8L273.5,170.1L270.8,171.6L270.8,174.0L263.2,174.0L264.2,173.2L265.7,173.0L267.1,171.6L267.9,171.0L269.4,169.4L269.0,166.8L269.7,165.1L269.9,164.1L271.0,162.7L272.7,161.8L273.9,160.9L275.1,158.8L275.6,157.6Z" fill="#e9975a" fill-rule="evenodd"/>
<path d="M314.5,137.3L315.7,136.8L316.6,136.9L317.6,137.7L317.8,138.3L318.8,138.8L319.0,139.6L319.9,140.1L320.4,139.7L320.8,139.9L320.5,140.3L320.8,140.6L320.4,141.1L320.6,141.8L321.5,142.7L320.9,143.3L320.7,143.9L320.9,144.2L320.7,144.4L319.9,144.5L319.4,144.6L319.1,144.7L318.1,145.0L318.1,145.4L317.9,145.4L317.7,144.6L317.3,144.4L317.0,143.9L317.2,143.5L317.4,143.3L316.7,142.9L316.2,142.7L315.9,142.4L315.5,142.0L315.8,141.9L316.0,141.0L315.2,140.3L315.5,139.4L315.0,139.4L315.5,138.6L315.0,138.1Z" fill="#e9975a" fill-rule="evenodd"/>
<path d="M317.9,145.4L318.1,145.4L318.1,145.0L319.1,144.7L319.4,144.6L319.9,144.5L320.7,144.4L321.5,145.1L321.7,146.4L321.4,146.5L321.2,146.8L320.4,146.8L319.8,147.2L318.7,147.4L318.1,146.9L317.8,146.0Z" fill="#e9975a" fill-rule="evenodd"/>
<path d="M489.5,221.3L488.0,221.0L486.0,221.0L485.5,223.2L484.8,223.9L484.0,226.7L482.6,227.2L480.9,226.6L480.1,226.8L479.1,227.8L478.0,227.6L476.9,228.1L475.7,226.9L475.4,225.6L476.7,226.3L478.0,225.9L478.3,224.2L479.0,223.8L481.1,223.4L482.3,221.8L483.1,220.5L483.9,221.6L484.3,220.9L485.1,220.9L485.1,219.7L485.2,218.7L486.4,217.3L487.2,215.7L487.9,215.7L488.8,216.7L489.0,217.6L490.2,218.1L491.6,218.7L491.5,219.5L490.4,219.6L490.7,220.6ZM460.4,218.2L461.5,217.9L462.0,217.1L462.4,217.3L463.5,218.5L464.3,219.9L464.5,221.2L464.3,222.1L464.5,222.8L464.6,224.0L465.3,224.5L466.0,226.3L466.0,227.0L464.7,227.1L463.1,225.6L461.0,224.1L460.8,223.0L459.7,221.7L459.4,220.0L458.8,218.9L458.9,217.5L458.5,216.6L458.7,216.3L460.2,217.2Z" fill="#e9975a" fill-rule="evenodd"/>
<path d="M344.8,252.7L344.3,254.2L344.7,256.9L345.3,256.8L345.9,257.5L346.5,258.9L346.5,261.5L345.8,262.0L345.2,263.3L344.1,262.1L344.1,260.7L344.5,259.7L344.4,258.9L343.7,258.4L343.3,258.6L342.3,257.6L341.4,257.1L342.0,255.3L342.6,254.6L342.3,252.9L342.7,251.3L343.0,250.7L342.6,249.0L341.8,248.1L343.5,248.5L343.8,249.0L344.4,250.0Z" fill="#df8339" fill-rule="evenodd"/>
<path d="M490.5,180.6L490.2,183.8L489.9,185.4L488.6,183.7L488.1,182.2L488.6,180.3L489.6,178.7L490.5,179.3Z" fill="#df8339" fill-rule="evenodd"/>
<path d="M426.7,214.5L426.5,216.6L425.8,217.2L424.3,217.6L423.4,216.0L423.0,213.1L423.6,209.9L424.9,211.0L425.7,212.4Z" fill="#df8339" fill-rule="evenodd"/>
<path d="M294.4,129.1L294.7,129.5L294.7,130.4L294.2,130.4L293.9,130.2L294.0,129.1Z" fill="#e0e3e6" fill-rule="evenodd"/>
<path d="M300.0,134.1L300.1,134.5L299.9,135.0L300.6,135.3L301.4,135.4L301.3,136.2L300.6,136.5L299.5,136.3L299.2,137.1L298.4,137.1L298.2,136.8L297.3,137.5L296.6,137.6L295.9,137.2L295.3,136.3L294.6,136.6L294.6,135.7L295.7,134.6L295.6,134.1L296.3,134.3L296.8,134.0L298.1,134.0L298.4,133.5Z" fill="#e0e3e6" fill-rule="evenodd"/>
<path d="M311.3,133.0L311.3,133.8L310.4,133.8L310.7,134.2L310.3,135.5L310.0,135.8L308.7,135.8L307.9,136.3L306.6,136.1L304.4,135.6L304.0,134.9L302.5,135.3L302.4,135.7L301.4,135.4L300.6,135.3L299.9,135.0L300.1,134.5L300.0,134.1L300.5,134.0L301.3,134.6L301.5,134.0L302.9,134.1L303.9,133.8L304.7,133.9L305.2,134.2L305.3,133.9L305.0,132.6L305.6,132.4L306.0,131.5L307.2,132.1L308.0,131.3L308.5,131.2L309.8,131.8L310.5,131.7L311.2,132.0L311.1,132.3Z" fill="#e0e3e6" fill-rule="evenodd"/>
<path d="M311.2,132.0L310.5,131.7L309.8,131.8L308.5,131.2L308.0,131.3L307.2,132.1L306.0,131.5L305.1,130.6L304.3,130.2L304.1,129.4L303.8,128.8L304.9,128.4L305.4,127.9L306.5,127.5L306.8,127.1L307.3,127.4L307.9,127.2L308.7,127.8L309.8,127.9L309.8,128.5L310.6,128.9L310.8,128.4L311.9,128.6L312.1,129.2L313.2,129.3L314.0,130.3L313.5,130.3L313.3,130.6L313.0,130.7L312.9,131.2L312.6,131.3L312.6,131.4L312.1,131.6L311.4,131.6Z" fill="#e0e3e6" fill-rule="evenodd"/>
<path d="M314.0,130.3L314.1,130.4L314.7,130.1L315.5,130.8L316.4,130.4L317.1,130.6L318.2,130.3L319.7,131.1L319.3,131.6L319.1,132.4L318.8,132.6L317.1,132.0L316.6,132.1L316.3,132.6L315.6,132.8L315.4,132.7L314.7,133.0L314.1,133.0L314.0,133.4L312.7,133.7L312.2,133.5L311.3,133.0L311.1,132.3L311.2,132.0L311.4,131.6L312.1,131.6L312.6,131.4L312.6,131.3L312.9,131.2L313.0,130.7L313.3,130.6L313.5,130.3Z" fill="#e0e3e6" fill-rule="evenodd"/>
<path d="M310.3,135.5L310.7,134.2L310.4,133.8L311.3,133.8L311.3,133.0L312.2,133.5L312.7,133.7L314.0,133.4L314.1,133.0L314.7,133.0L315.4,132.7L315.6,132.8L316.3,132.6L316.6,132.1L317.1,132.0L318.8,132.6L319.1,132.4L320.0,132.9L320.2,133.4L319.3,133.9L318.7,135.2L317.9,136.5L316.6,136.9L315.7,136.8L314.5,137.3L314.0,137.6L312.7,137.2L311.4,136.4L310.9,136.2L310.6,135.5Z" fill="#e0e3e6" fill-rule="evenodd"/>
<path d="M315.0,139.4L315.5,139.4L315.2,140.3L316.0,141.0L315.8,141.9L315.5,142.0L315.2,142.2L314.7,142.7L314.6,143.8L313.1,143.0L312.5,142.2L311.9,141.8L311.1,141.0L310.7,140.4L309.9,139.5L310.1,138.7L310.7,139.1L311.0,138.7L311.8,138.7L313.1,139.0L314.2,139.0Z" fill="#e0e3e6" fill-rule="evenodd"/>
<path d="M316.6,144.1L316.4,143.7L315.8,144.7L316.0,145.3L315.6,145.2L315.1,144.5L314.4,144.1L314.6,143.8L314.7,142.7L315.2,142.2L315.5,142.0L315.9,142.4L316.2,142.7L316.7,142.9L317.4,143.3L317.2,143.5L317.0,143.9Z" fill="#e0e3e6" fill-rule="evenodd"/>
<path d="M320.1,121.8L321.5,121.8L323.0,121.1L323.2,120.0L324.3,119.4L324.1,118.5L324.9,118.2L326.4,117.5L328.0,118.0L328.3,118.5L329.0,118.2L330.5,118.7L330.8,119.6L330.6,120.1L331.7,121.3L332.4,121.7L332.3,122.0L333.4,122.3L333.9,122.9L333.4,123.3L332.2,123.2L331.9,123.4L332.4,124.0L332.9,125.2L331.7,125.4L331.3,125.8L331.3,126.8L330.7,126.6L329.3,126.7L328.9,126.2L328.4,126.5L327.7,126.3L326.6,126.2L324.8,125.8L323.3,125.6L322.1,125.7L321.4,126.2L320.7,126.2L320.5,125.4L320.0,124.5L320.8,124.1L320.7,123.4L320.2,122.6Z" fill="#e0e3e6" fill-rule="evenodd"/>
<path d="M468.5,186.3L466.6,188.0L465.5,189.9L465.3,191.3L467.0,193.4L469.0,196.1L470.7,197.3L472.0,198.9L473.2,202.6L473.4,206.2L472.1,207.5L470.2,208.8L469.0,210.5L467.0,212.3L466.2,211.1L466.6,209.7L465.2,208.5L466.7,207.7L468.5,207.6L467.6,206.4L470.3,204.8L470.2,202.4L469.7,201.1L469.7,199.1L469.1,197.7L467.6,196.3L466.3,194.5L464.5,192.1L462.3,190.9L462.6,190.2L463.6,189.6L462.7,187.9L460.6,187.9L459.5,186.0L458.2,184.5L459.0,183.9L460.4,184.0L462.0,183.7L463.2,182.7L464.2,183.4L465.8,183.8L465.8,184.9L466.7,185.8Z" fill="#e0e3e6" fill-rule="evenodd"/>
<circle cx="383" cy="270.8" r=".9" fill="#e9975a"/>
</svg>
<div class="t" id="title">World Reliance on Gulf Energy</div>
<div class="t" id="sub">Percentage of each country's oil and gas imports coming from Gulf nations</div>
<div id="grad"></div>
<div class="t" id="l0">1%</div>
<div class="t" id="l1">98%</div>
<div class="t fn" id="f1">Gulf nations include Bahrain, Iran, Iraq, Kuwait, Qatar, Saudi Arabia, and the United Arab Emirates.</div>
<div class="t fn" id="f2">Imports include crude oil; petroleum distillates; and liquefied natural, propane, butane, and petroleum gases.</div>
<div class="t" id="f3">Map: The Epoch Times • Source: Observatory of Economic Complexity • Created with Datawrapper</div>
</body></html>
